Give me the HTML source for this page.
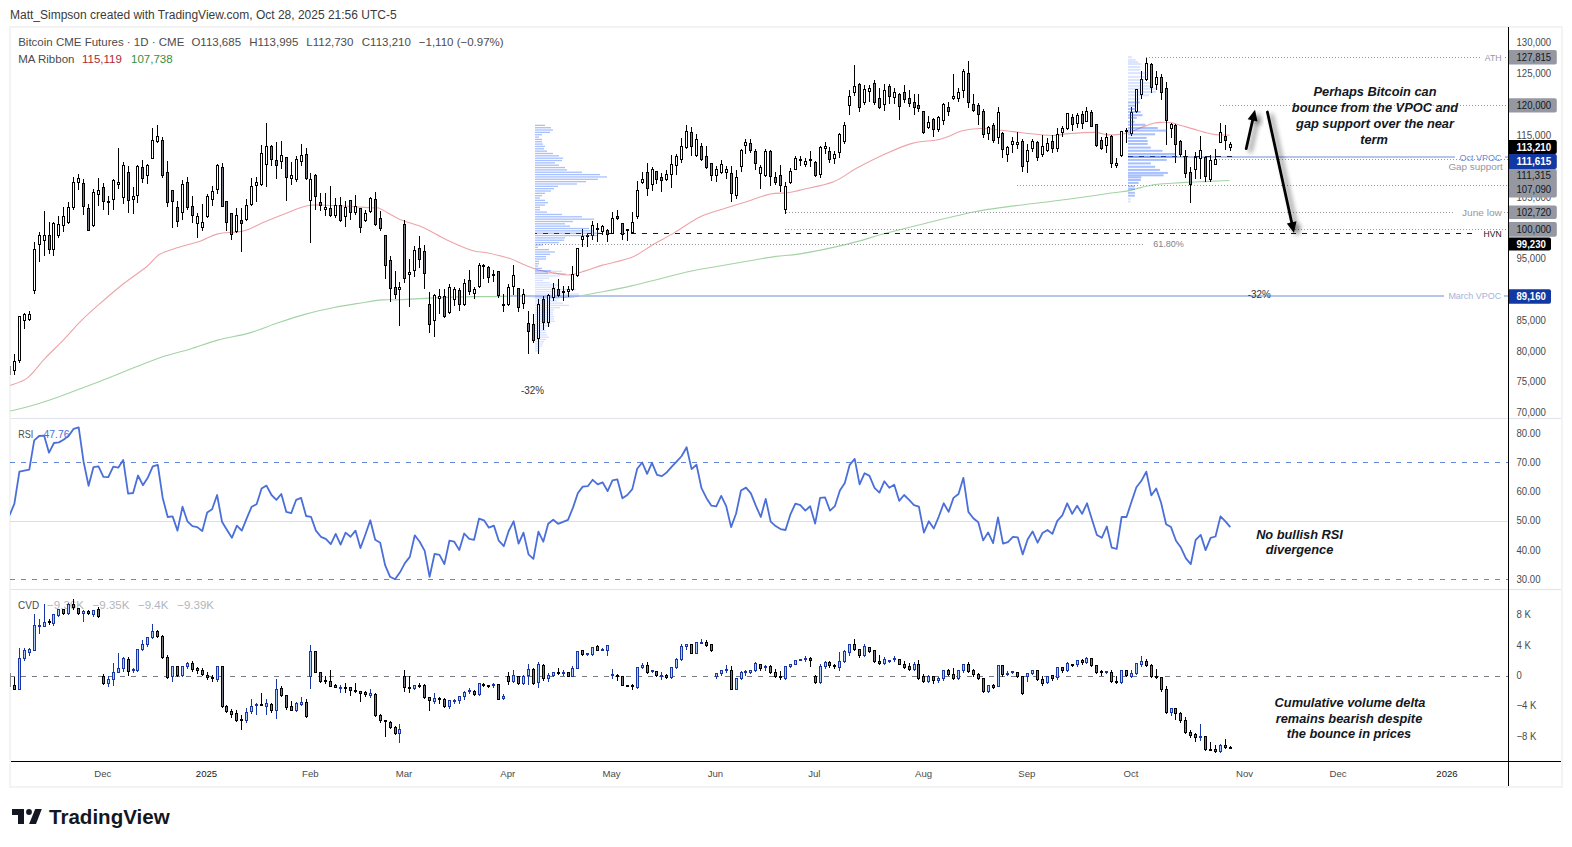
<!DOCTYPE html>
<html><head><meta charset="utf-8">
<style>
html,body{margin:0;padding:0;background:#fff;width:1572px;height:847px;overflow:hidden}
svg{position:absolute;left:0;top:0}
text{font-family:"Liberation Sans", sans-serif}
</style></head><body>
<svg width="1572" height="847" viewBox="0 0 1572 847">
<defs>
<clipPath id="cmain"><rect x="10" y="27" width="1498" height="391"/></clipPath>
<clipPath id="crsi"><rect x="10" y="419" width="1498" height="170"/></clipPath>
<clipPath id="ccvd"><rect x="10" y="590" width="1498" height="171"/></clipPath>
<filter id="shadow" x="-50%" y="-50%" width="200%" height="200%"><feGaussianBlur in="SourceAlpha" stdDeviation="2.5"/><feOffset dx="3.5" dy="3"/><feComponentTransfer><feFuncA type="linear" slope="0.55"/></feComponentTransfer><feMerge><feMergeNode/><feMergeNode in="SourceGraphic"/></feMerge></filter>
</defs>
<text x="10" y="19" font-size="12" fill="#3b3b3b" text-anchor="start" font-weight="normal" font-style="normal" >Matt_Simpson created with TradingView.com, Oct 28, 2025 21:56 UTC-5</text>
<rect x="10" y="27" width="1552" height="760" fill="none" stroke="#f3f3f3" stroke-width="2"/>
<line x1="11" y1="418.5" x2="1561" y2="418.5" stroke="#e0e3eb"/>
<line x1="11" y1="589.5" x2="1561" y2="589.5" stroke="#e0e3eb"/>
<g clip-path="url(#cmain)">
<path d="M10.3 385.5 C13.2 384.2 22.1 382.1 27.8 377.6 C33.5 373.1 38.6 365.1 44.8 358.6 C50.9 352.1 58.8 344.9 64.7 338.7 C70.6 332.5 74.6 327.4 80.3 321.7 C86.0 316.0 91.6 310.9 98.7 304.7 C105.8 298.5 114.8 290.7 122.8 284.3 C130.8 277.9 140.8 271.5 146.9 266.5 C153.0 261.5 154.4 257.5 159.6 254.3 C164.8 251.1 171.2 249.7 178.1 247.5 C184.9 245.3 194.1 243.2 200.7 240.9 C207.3 238.6 210.6 235.6 217.7 233.9 C224.8 232.2 235.7 232.9 243.3 231.0 C250.9 229.1 256.0 225.4 263.1 222.5 C270.2 219.6 278.2 216.2 285.8 213.4 C293.4 210.6 300.5 206.8 308.5 205.5 C316.5 204.2 323.6 205.1 334.0 205.5 C344.4 205.9 363.2 207.3 370.8 207.8 C378.4 208.3 374.4 206.4 379.3 208.3 C384.2 210.2 392.7 216.2 400.0 219.4 C407.3 222.6 415.4 224.1 423.1 227.5 C430.8 230.9 438.1 235.8 446.3 239.7 C454.5 243.5 465.6 248.4 472.3 250.6 C479.1 252.8 480.5 251.4 486.8 252.7 C493.1 254.0 504.1 256.7 509.9 258.5 C515.7 260.3 517.2 261.6 521.5 263.4 C525.8 265.2 530.6 267.6 535.9 269.2 C541.2 270.8 547.8 271.9 553.3 272.9 C558.8 273.8 563.9 275.2 569.2 274.9 C574.5 274.6 579.6 272.5 585.1 270.9 C590.6 269.3 594.8 267.3 602.5 265.1 C610.2 262.9 623.2 260.9 631.4 257.6 C639.6 254.3 644.4 249.6 651.6 245.4 C658.8 241.2 666.6 237.2 674.8 232.4 C683.0 227.6 692.1 220.6 700.8 216.5 C709.5 212.4 719.1 210.3 726.8 207.8 C734.5 205.3 739.9 203.8 747.1 201.5 C754.3 199.2 763.5 195.4 770.2 194.0 C777.0 192.6 782.6 193.5 787.6 192.8 C792.6 192.2 792.3 191.9 800.0 190.1 C807.7 188.2 824.3 185.3 833.6 181.7 C842.9 178.1 847.6 173.1 856.0 168.6 C864.4 164.1 874.7 158.8 884.0 154.6 C893.3 150.4 902.7 146.0 912.0 143.4 C921.3 140.8 931.6 141.3 940.0 139.2 C948.4 137.1 955.8 132.6 962.3 130.8 C968.8 129.0 972.6 128.6 979.1 128.5 C985.6 128.4 994.0 129.4 1001.5 130.2 C1009.0 130.9 1015.5 132.1 1023.9 133.0 C1032.3 133.9 1044.4 135.4 1051.9 135.5 C1059.4 135.6 1061.5 134.1 1068.7 133.6 C1075.9 133.1 1088.8 132.2 1095.0 132.4 C1101.2 132.6 1102.3 134.2 1106.0 134.6 C1109.7 135.0 1113.3 134.9 1117.0 134.6 C1120.7 134.3 1124.0 133.8 1128.0 132.7 C1132.0 131.6 1136.5 129.4 1140.8 127.8 C1145.1 126.2 1149.9 124.1 1153.6 123.2 C1157.2 122.3 1159.7 122.4 1162.7 122.3 C1165.8 122.2 1168.6 122.2 1171.9 122.8 C1175.2 123.4 1179.2 125.0 1182.8 126.0 C1186.4 127.0 1190.1 128.0 1193.8 129.1 C1197.5 130.2 1201.1 131.5 1204.8 132.4 C1208.5 133.3 1211.7 134.2 1215.8 134.6 C1219.9 135.0 1227.2 135.0 1229.5 135.1" fill="none" stroke="#eda4a8" stroke-width="1.1"/>
<path d="M10.3 411.0 C13.2 410.3 21.1 408.7 27.8 406.8 C34.5 404.9 42.0 402.6 50.5 399.7 C59.0 396.8 69.5 392.8 78.9 389.2 C88.4 385.6 97.8 382.1 107.2 378.4 C116.6 374.7 126.5 370.6 135.5 367.1 C144.5 363.6 152.1 360.2 161.1 357.2 C170.1 354.2 180.0 352.0 189.4 349.2 C198.8 346.4 207.8 342.8 217.7 340.1 C227.6 337.4 239.0 335.9 248.9 333.1 C258.8 330.3 267.9 326.3 277.3 323.1 C286.8 319.9 296.2 316.7 305.6 314.1 C315.1 311.5 324.6 309.4 334.0 307.5 C343.4 305.6 354.3 304.0 362.3 302.7 C370.3 301.4 375.9 300.4 382.2 299.9 C388.5 299.4 392.2 300.1 400.0 299.8 C407.8 299.5 419.3 298.6 428.9 298.1 C438.5 297.6 448.1 297.1 457.8 296.9 C467.5 296.6 477.1 296.7 486.8 296.6 C496.5 296.5 507.5 296.1 515.7 296.1 C523.9 296.2 529.1 296.7 535.9 296.9 C542.6 297.1 549.9 297.5 556.2 297.5 C562.5 297.5 565.8 297.9 573.5 296.9 C581.2 295.9 592.9 293.5 602.5 291.7 C612.1 289.9 621.8 288.1 631.4 285.9 C641.0 283.7 650.7 281.1 660.3 278.7 C669.9 276.3 679.6 273.6 689.2 271.5 C698.8 269.4 708.5 268.0 718.1 266.3 C727.8 264.6 737.5 263.0 747.1 261.3 C756.8 259.6 767.2 257.6 776.0 256.4 C784.8 255.2 788.1 255.9 800.0 253.9 C811.9 251.9 833.6 247.4 847.6 244.1 C861.6 240.8 870.9 237.3 884.0 233.8 C897.1 230.3 911.1 226.8 926.0 223.2 C940.9 219.6 959.5 214.8 973.5 212.0 C987.5 209.2 996.8 208.2 1009.9 206.4 C1023.0 204.6 1037.7 203.1 1051.9 201.3 C1066.1 199.5 1084.8 196.9 1095.0 195.5 C1105.2 194.1 1107.8 193.6 1113.3 192.8 C1118.8 192.0 1123.4 191.8 1128.0 190.9 C1132.6 190.0 1136.2 188.7 1140.8 187.6 C1145.4 186.5 1150.2 185.2 1155.4 184.5 C1160.6 183.8 1166.1 183.6 1171.9 183.2 C1177.7 182.8 1184.1 182.4 1190.2 182.1 C1196.3 181.8 1202.0 181.7 1208.5 181.4 C1215.0 181.1 1226.0 180.7 1229.5 180.5" fill="none" stroke="#a3d3a5" stroke-width="1.1"/>
<line x1="1146" y1="57.5" x2="1480" y2="57.5" stroke="#9598a1" stroke-width="1" stroke-dasharray="1 2"/><line x1="1505" y1="57.5" x2="1508" y2="57.5" stroke="#9598a1" stroke-width="1" stroke-dasharray="1 2"/><line x1="1220" y1="105.5" x2="1508" y2="105.5" stroke="#9598a1" stroke-width="1" stroke-dasharray="1 2"/><line x1="1216" y1="159.5" x2="1508" y2="159.5" stroke="#9598a1" stroke-width="1" stroke-dasharray="1 2"/><line x1="1017" y1="185.5" x2="1508" y2="185.5" stroke="#9598a1" stroke-width="1" stroke-dasharray="1 2"/><line x1="786" y1="212.5" x2="1455" y2="212.5" stroke="#9598a1" stroke-width="1" stroke-dasharray="1 2"/><line x1="1504" y1="212.5" x2="1508" y2="212.5" stroke="#9598a1" stroke-width="1" stroke-dasharray="1 2"/><line x1="785" y1="229.5" x2="1508" y2="229.5" stroke="#9598a1" stroke-width="1" stroke-dasharray="1 2"/><line x1="536" y1="244.5" x2="1145" y2="244.5" stroke="#9598a1" stroke-width="1" stroke-dasharray="1 2"/><line x1="535" y1="233.5" x2="1472" y2="233.5" stroke="#131722" stroke-width="1" stroke-dasharray="5 6" stroke-dashoffset="3"/><line x1="1128" y1="157" x2="1455" y2="157" stroke="#b6c5ea" stroke-width="2"/><line x1="1128" y1="156.5" x2="1233" y2="156.5" stroke="#1c2541" stroke-width="1" stroke-dasharray="5 6"/><line x1="1505" y1="157" x2="1508" y2="157" stroke="#b6c5ea" stroke-width="2"/><line x1="508" y1="296" x2="1444" y2="296" stroke="#b6c5ea" stroke-width="2"/><line x1="1504" y1="296" x2="1508" y2="296" stroke="#b6c5ea" stroke-width="2"/>
</g>
<g clip-path="url(#cmain)" stroke-width="1" fill="none"><path stroke="#8a8a8a" d="M9.5 366V366.5M9.5 374.5V376"/><rect stroke="#8a8a8a" fill="none" x="8.5" y="366.5" width="2" height="8"/><path stroke="#000" d="M14.5 354V361.5M14.5 370.5V375"/><rect stroke="#000" fill="#fff" x="13.5" y="361.5" width="2" height="9"/><path stroke="#000" d="M19.5 316V316.5M19.5 360.5V363"/><rect stroke="#000" fill="#fff" x="18.5" y="316.5" width="2" height="44"/><path stroke="#000" d="M24.5 313V314.5M24.5 320.5V329"/><rect stroke="#000" fill="#fff" x="23.5" y="314.5" width="2" height="6"/><path stroke="#000" d="M29.5 311V314.5M29.5 319.5V321"/><rect stroke="#000" fill="#fff" x="28.5" y="314.5" width="2" height="5"/><path stroke="#000" d="M34.5 242V249.5M34.5 290.5V294"/><rect stroke="#000" fill="#fff" x="33.5" y="249.5" width="2" height="41"/><path stroke="#000" d="M39.5 232V235.5M39.5 244.5V262"/><rect stroke="#000" fill="#fff" x="38.5" y="235.5" width="2" height="9"/><path stroke="#000" d="M44.5 211V235.5M44.5 240.5V256"/><rect stroke="#000" fill="#fff" x="43.5" y="235.5" width="2" height="5"/><path stroke="#000" d="M49.5 222V235.5M49.5 249.5V254"/><rect stroke="#000" fill="#787b86" x="48.5" y="235.5" width="2" height="14"/><path stroke="#000" d="M53.5 222V223.5M53.5 249.5V256"/><rect stroke="#000" fill="#fff" x="52.5" y="223.5" width="2" height="26"/><path stroke="#000" d="M58.5 216V224.5M58.5 235.5V238"/><rect stroke="#000" fill="#fff" x="57.5" y="224.5" width="2" height="11"/><path stroke="#000" d="M63.5 207V216.5M63.5 225.5V232"/><rect stroke="#000" fill="#fff" x="62.5" y="216.5" width="2" height="9"/><path stroke="#000" d="M68.5 202V207.5M68.5 222.5V224"/><rect stroke="#000" fill="#fff" x="67.5" y="207.5" width="2" height="15"/><path stroke="#000" d="M73.5 177V182.5M73.5 207.5V210"/><rect stroke="#000" fill="#fff" x="72.5" y="182.5" width="2" height="25"/><path stroke="#000" d="M78.5 174V178.5M78.5 182.5V190"/><rect stroke="#000" fill="#fff" x="77.5" y="178.5" width="2" height="4"/><path stroke="#000" d="M83.5 179V183.5M83.5 206.5V215"/><rect stroke="#000" fill="#787b86" x="82.5" y="183.5" width="2" height="23"/><path stroke="#000" d="M88.5 204V208.5M88.5 230.5V231"/><rect stroke="#000" fill="#787b86" x="87.5" y="208.5" width="2" height="22"/><path stroke="#000" d="M93.5 189V192.5M93.5 225.5V227"/><rect stroke="#000" fill="#fff" x="92.5" y="192.5" width="2" height="33"/><path stroke="#000" d="M98.5 178V190.5M98.5 194.5V206"/><rect stroke="#000" fill="#fff" x="97.5" y="190.5" width="2" height="4"/><path stroke="#000" d="M103.5 183V187.5M103.5 201.5V210"/><rect stroke="#000" fill="#787b86" x="102.5" y="187.5" width="2" height="14"/><path stroke="#000" d="M108.5 196V201.5M108.5 202.5V215"/><rect stroke="#000" fill="#fff" x="107.5" y="201.5" width="2" height="1"/><path stroke="#000" d="M113.5 179V180.5M113.5 199.5V210"/><rect stroke="#000" fill="#fff" x="112.5" y="180.5" width="2" height="19"/><path stroke="#000" d="M118.5 148V182.5M118.5 184.5V189"/><rect stroke="#000" fill="#fff" x="117.5" y="182.5" width="2" height="2"/><path stroke="#000" d="M123.5 162V165.5M123.5 197.5V204"/><rect stroke="#000" fill="#fff" x="122.5" y="165.5" width="2" height="32"/><path stroke="#000" d="M128.5 166V172.5M128.5 200.5V213"/><rect stroke="#000" fill="#787b86" x="127.5" y="172.5" width="2" height="28"/><path stroke="#000" d="M133.5 187V196.5M133.5 199.5V214"/><rect stroke="#000" fill="#fff" x="132.5" y="196.5" width="2" height="3"/><path stroke="#000" d="M137.5 165V166.5M137.5 195.5V203"/><rect stroke="#000" fill="#fff" x="136.5" y="166.5" width="2" height="29"/><path stroke="#000" d="M142.5 160V167.5M142.5 178.5V183"/><rect stroke="#000" fill="#787b86" x="141.5" y="167.5" width="2" height="11"/><path stroke="#000" d="M147.5 164V165.5M147.5 175.5V184"/><rect stroke="#000" fill="#fff" x="146.5" y="165.5" width="2" height="10"/><path stroke="#000" d="M152.5 128V140.5M152.5 158.5V159"/><rect stroke="#000" fill="#fff" x="151.5" y="140.5" width="2" height="18"/><path stroke="#000" d="M157.5 125V136.5M157.5 141.5V143"/><rect stroke="#000" fill="#fff" x="156.5" y="136.5" width="2" height="5"/><path stroke="#000" d="M162.5 137V140.5M162.5 175.5V178"/><rect stroke="#000" fill="#787b86" x="161.5" y="140.5" width="2" height="35"/><path stroke="#000" d="M167.5 161V172.5M167.5 202.5V207"/><rect stroke="#000" fill="#787b86" x="166.5" y="172.5" width="2" height="30"/><path stroke="#000" d="M172.5 190V190.5M172.5 201.5V228"/><rect stroke="#000" fill="#787b86" x="171.5" y="190.5" width="2" height="11"/><path stroke="#000" d="M177.5 201V207.5M177.5 221.5V227"/><rect stroke="#000" fill="#787b86" x="176.5" y="207.5" width="2" height="14"/><path stroke="#000" d="M182.5 180V184.5M182.5 212.5V220"/><rect stroke="#000" fill="#fff" x="181.5" y="184.5" width="2" height="28"/><path stroke="#000" d="M187.5 177V182.5M187.5 207.5V210"/><rect stroke="#000" fill="#787b86" x="186.5" y="182.5" width="2" height="25"/><path stroke="#000" d="M192.5 196V206.5M192.5 215.5V223"/><rect stroke="#000" fill="#787b86" x="191.5" y="206.5" width="2" height="9"/><path stroke="#000" d="M197.5 213V216.5M197.5 223.5V238"/><rect stroke="#000" fill="#fff" x="196.5" y="216.5" width="2" height="7"/><path stroke="#000" d="M202.5 204V222.5M202.5 227.5V231"/><rect stroke="#000" fill="#fff" x="201.5" y="222.5" width="2" height="5"/><path stroke="#000" d="M207.5 194V196.5M207.5 216.5V218"/><rect stroke="#000" fill="#fff" x="206.5" y="196.5" width="2" height="20"/><path stroke="#000" d="M212.5 186V191.5M212.5 199.5V206"/><rect stroke="#000" fill="#fff" x="211.5" y="191.5" width="2" height="8"/><path stroke="#000" d="M217.5 164V165.5M217.5 189.5V194"/><rect stroke="#000" fill="#fff" x="216.5" y="165.5" width="2" height="24"/><path stroke="#000" d="M222.5 163V167.5M222.5 206.5V207"/><rect stroke="#000" fill="#787b86" x="221.5" y="167.5" width="2" height="39"/><path stroke="#000" d="M226.5 201V201.5M226.5 222.5V231"/><rect stroke="#000" fill="#787b86" x="225.5" y="201.5" width="2" height="21"/><path stroke="#000" d="M231.5 213V213.5M231.5 234.5V240"/><rect stroke="#000" fill="#787b86" x="230.5" y="213.5" width="2" height="21"/><path stroke="#000" d="M236.5 208V215.5M236.5 231.5V233"/><rect stroke="#000" fill="#fff" x="235.5" y="215.5" width="2" height="16"/><path stroke="#000" d="M241.5 208V220.5M241.5 223.5V252"/><rect stroke="#000" fill="#787b86" x="240.5" y="220.5" width="2" height="3"/><path stroke="#000" d="M246.5 199V205.5M246.5 219.5V221"/><rect stroke="#000" fill="#fff" x="245.5" y="205.5" width="2" height="14"/><path stroke="#000" d="M251.5 178V186.5M251.5 204.5V206"/><rect stroke="#000" fill="#fff" x="250.5" y="186.5" width="2" height="18"/><path stroke="#000" d="M256.5 177V182.5M256.5 185.5V202"/><rect stroke="#000" fill="#fff" x="255.5" y="182.5" width="2" height="3"/><path stroke="#000" d="M261.5 145V153.5M261.5 184.5V186"/><rect stroke="#000" fill="#fff" x="260.5" y="153.5" width="2" height="31"/><path stroke="#000" d="M266.5 123V146.5M266.5 164.5V187"/><rect stroke="#000" fill="#fff" x="265.5" y="146.5" width="2" height="18"/><path stroke="#000" d="M271.5 145V146.5M271.5 159.5V166"/><rect stroke="#000" fill="#787b86" x="270.5" y="146.5" width="2" height="13"/><path stroke="#000" d="M276.5 142V160.5M276.5 165.5V179"/><rect stroke="#000" fill="#787b86" x="275.5" y="160.5" width="2" height="5"/><path stroke="#000" d="M281.5 141V155.5M281.5 161.5V169"/><rect stroke="#000" fill="#fff" x="280.5" y="155.5" width="2" height="6"/><path stroke="#000" d="M286.5 157V157.5M286.5 177.5V201"/><rect stroke="#000" fill="#787b86" x="285.5" y="157.5" width="2" height="20"/><path stroke="#000" d="M291.5 162V175.5M291.5 178.5V185"/><rect stroke="#000" fill="#fff" x="290.5" y="175.5" width="2" height="3"/><path stroke="#000" d="M296.5 156V159.5M296.5 179.5V182"/><rect stroke="#000" fill="#fff" x="295.5" y="159.5" width="2" height="20"/><path stroke="#000" d="M301.5 144V155.5M301.5 161.5V166"/><rect stroke="#000" fill="#fff" x="300.5" y="155.5" width="2" height="6"/><path stroke="#000" d="M306.5 148V154.5M306.5 178.5V180"/><rect stroke="#000" fill="#787b86" x="305.5" y="154.5" width="2" height="24"/><path stroke="#000" d="M310.5 173V179.5M310.5 200.5V243"/><rect stroke="#000" fill="#fff" x="309.5" y="179.5" width="2" height="21"/><path stroke="#000" d="M315.5 174V175.5M315.5 196.5V210"/><rect stroke="#000" fill="#787b86" x="314.5" y="175.5" width="2" height="21"/><path stroke="#000" d="M320.5 193V202.5M320.5 205.5V211"/><rect stroke="#000" fill="#787b86" x="319.5" y="202.5" width="2" height="3"/><path stroke="#000" d="M325.5 193V207.5M325.5 209.5V216"/><rect stroke="#000" fill="#fff" x="324.5" y="207.5" width="2" height="2"/><path stroke="#000" d="M330.5 186V208.5M330.5 215.5V217"/><rect stroke="#000" fill="#787b86" x="329.5" y="208.5" width="2" height="7"/><path stroke="#000" d="M335.5 198V205.5M335.5 215.5V218"/><rect stroke="#000" fill="#fff" x="334.5" y="205.5" width="2" height="10"/><path stroke="#000" d="M340.5 197V205.5M340.5 220.5V222"/><rect stroke="#000" fill="#787b86" x="339.5" y="205.5" width="2" height="15"/><path stroke="#000" d="M345.5 201V207.5M345.5 216.5V227"/><rect stroke="#000" fill="#fff" x="344.5" y="207.5" width="2" height="9"/><path stroke="#000" d="M350.5 200V200.5M350.5 212.5V220"/><rect stroke="#000" fill="#787b86" x="349.5" y="200.5" width="2" height="12"/><path stroke="#000" d="M355.5 195V206.5M355.5 212.5V215"/><rect stroke="#000" fill="#fff" x="354.5" y="206.5" width="2" height="6"/><path stroke="#000" d="M360.5 208V208.5M360.5 227.5V233"/><rect stroke="#000" fill="#787b86" x="359.5" y="208.5" width="2" height="19"/><path stroke="#000" d="M365.5 210V213.5M365.5 220.5V222"/><rect stroke="#000" fill="#fff" x="364.5" y="213.5" width="2" height="7"/><path stroke="#000" d="M370.5 197V198.5M370.5 211.5V213"/><rect stroke="#000" fill="#fff" x="369.5" y="198.5" width="2" height="13"/><path stroke="#000" d="M375.5 192V199.5M375.5 224.5V226"/><rect stroke="#000" fill="#787b86" x="374.5" y="199.5" width="2" height="25"/><path stroke="#000" d="M380.5 211V218.5M380.5 228.5V231"/><rect stroke="#000" fill="#787b86" x="379.5" y="218.5" width="2" height="10"/><path stroke="#000" d="M385.5 235V235.5M385.5 265.5V279"/><rect stroke="#000" fill="#787b86" x="384.5" y="235.5" width="2" height="30"/><path stroke="#000" d="M390.5 256V260.5M390.5 288.5V302"/><rect stroke="#000" fill="#787b86" x="389.5" y="260.5" width="2" height="28"/><path stroke="#000" d="M395.5 271V287.5M395.5 294.5V299"/><rect stroke="#000" fill="#787b86" x="394.5" y="287.5" width="2" height="7"/><path stroke="#000" d="M399.5 282V287.5M399.5 289.5V326"/><rect stroke="#000" fill="#fff" x="398.5" y="287.5" width="2" height="2"/><path stroke="#000" d="M404.5 220V224.5M404.5 278.5V283"/><rect stroke="#000" fill="#787b86" x="403.5" y="224.5" width="2" height="54"/><path stroke="#000" d="M409.5 259V272.5M409.5 274.5V307"/><rect stroke="#000" fill="#fff" x="408.5" y="272.5" width="2" height="2"/><path stroke="#000" d="M414.5 246V250.5M414.5 270.5V277"/><rect stroke="#000" fill="#fff" x="413.5" y="250.5" width="2" height="20"/><path stroke="#000" d="M419.5 236V248.5M419.5 259.5V268"/><rect stroke="#000" fill="#787b86" x="418.5" y="248.5" width="2" height="11"/><path stroke="#000" d="M424.5 245V251.5M424.5 273.5V289"/><rect stroke="#000" fill="#787b86" x="423.5" y="251.5" width="2" height="22"/><path stroke="#000" d="M429.5 292V304.5M429.5 324.5V333"/><rect stroke="#000" fill="#787b86" x="428.5" y="304.5" width="2" height="20"/><path stroke="#000" d="M434.5 294V295.5M434.5 320.5V337"/><rect stroke="#000" fill="#fff" x="433.5" y="295.5" width="2" height="25"/><path stroke="#000" d="M439.5 289V296.5M439.5 298.5V314"/><rect stroke="#000" fill="#fff" x="438.5" y="296.5" width="2" height="2"/><path stroke="#000" d="M444.5 289V296.5M444.5 316.5V318"/><rect stroke="#000" fill="#787b86" x="443.5" y="296.5" width="2" height="20"/><path stroke="#000" d="M449.5 284V287.5M449.5 312.5V314"/><rect stroke="#000" fill="#fff" x="448.5" y="287.5" width="2" height="25"/><path stroke="#000" d="M454.5 287V289.5M454.5 299.5V306"/><rect stroke="#000" fill="#fff" x="453.5" y="289.5" width="2" height="10"/><path stroke="#000" d="M459.5 288V290.5M459.5 304.5V311"/><rect stroke="#000" fill="#787b86" x="458.5" y="290.5" width="2" height="14"/><path stroke="#000" d="M464.5 279V283.5M464.5 304.5V306"/><rect stroke="#000" fill="#fff" x="463.5" y="283.5" width="2" height="21"/><path stroke="#000" d="M469.5 270V280.5M469.5 291.5V295"/><rect stroke="#000" fill="#787b86" x="468.5" y="280.5" width="2" height="11"/><path stroke="#000" d="M474.5 287V289.5M474.5 293.5V299"/><rect stroke="#000" fill="#fff" x="473.5" y="289.5" width="2" height="4"/><path stroke="#000" d="M479.5 263V265.5M479.5 286.5V288"/><rect stroke="#000" fill="#fff" x="478.5" y="265.5" width="2" height="21"/><path stroke="#000" d="M483.5 264V265.5M483.5 266.5V279"/><rect stroke="#000" fill="#fff" x="482.5" y="265.5" width="2" height="1"/><path stroke="#000" d="M488.5 266V267.5M488.5 277.5V283"/><rect stroke="#000" fill="#787b86" x="487.5" y="267.5" width="2" height="10"/><path stroke="#000" d="M493.5 270V274.5M493.5 275.5V282"/><rect stroke="#000" fill="#fff" x="492.5" y="274.5" width="2" height="1"/><path stroke="#000" d="M498.5 271V271.5M498.5 295.5V298"/><rect stroke="#000" fill="#787b86" x="497.5" y="271.5" width="2" height="24"/><path stroke="#000" d="M503.5 294V304.5M503.5 305.5V312"/><rect stroke="#000" fill="#787b86" x="502.5" y="304.5" width="2" height="1"/><path stroke="#000" d="M508.5 284V287.5M508.5 304.5V306"/><rect stroke="#000" fill="#fff" x="507.5" y="287.5" width="2" height="17"/><path stroke="#000" d="M513.5 265V275.5M513.5 286.5V295"/><rect stroke="#000" fill="#fff" x="512.5" y="275.5" width="2" height="11"/><path stroke="#000" d="M518.5 288V288.5M518.5 307.5V312"/><rect stroke="#000" fill="#787b86" x="517.5" y="288.5" width="2" height="19"/><path stroke="#000" d="M523.5 289V294.5M523.5 303.5V309"/><rect stroke="#000" fill="#fff" x="522.5" y="294.5" width="2" height="9"/><path stroke="#000" d="M528.5 311V323.5M528.5 331.5V354"/><rect stroke="#000" fill="#787b86" x="527.5" y="323.5" width="2" height="8"/><path stroke="#000" d="M533.5 314V324.5M533.5 340.5V343"/><rect stroke="#000" fill="#787b86" x="532.5" y="324.5" width="2" height="16"/><path stroke="#000" d="M538.5 299V304.5M538.5 338.5V354"/><rect stroke="#000" fill="#fff" x="537.5" y="304.5" width="2" height="34"/><path stroke="#000" d="M543.5 296V299.5M543.5 322.5V330"/><rect stroke="#000" fill="#787b86" x="542.5" y="299.5" width="2" height="23"/><path stroke="#000" d="M548.5 294V295.5M548.5 322.5V327"/><rect stroke="#000" fill="#fff" x="547.5" y="295.5" width="2" height="27"/><path stroke="#000" d="M553.5 283V288.5M553.5 297.5V301"/><rect stroke="#000" fill="#fff" x="552.5" y="288.5" width="2" height="9"/><path stroke="#000" d="M558.5 279V289.5M558.5 295.5V297"/><rect stroke="#000" fill="#787b86" x="557.5" y="289.5" width="2" height="6"/><path stroke="#000" d="M563.5 286V291.5M563.5 292.5V301"/><rect stroke="#000" fill="#fff" x="562.5" y="291.5" width="2" height="1"/><path stroke="#000" d="M568.5 286V289.5M568.5 291.5V297"/><rect stroke="#000" fill="#fff" x="567.5" y="289.5" width="2" height="2"/><path stroke="#000" d="M572.5 266V274.5M572.5 289.5V291"/><rect stroke="#000" fill="#fff" x="571.5" y="274.5" width="2" height="15"/><path stroke="#000" d="M577.5 248V248.5M577.5 275.5V277"/><rect stroke="#000" fill="#fff" x="576.5" y="248.5" width="2" height="27"/><path stroke="#000" d="M582.5 229V236.5M582.5 239.5V247"/><rect stroke="#000" fill="#fff" x="581.5" y="236.5" width="2" height="3"/><path stroke="#000" d="M587.5 234V235.5M587.5 236.5V247"/><rect stroke="#000" fill="#fff" x="586.5" y="235.5" width="2" height="1"/><path stroke="#000" d="M592.5 221V225.5M592.5 235.5V240"/><rect stroke="#000" fill="#fff" x="591.5" y="225.5" width="2" height="10"/><path stroke="#000" d="M597.5 223V228.5M597.5 229.5V242"/><rect stroke="#000" fill="#fff" x="596.5" y="228.5" width="2" height="1"/><path stroke="#000" d="M602.5 225V226.5M602.5 231.5V235"/><rect stroke="#000" fill="#fff" x="601.5" y="226.5" width="2" height="5"/><path stroke="#000" d="M607.5 229V230.5M607.5 234.5V242"/><rect stroke="#000" fill="#787b86" x="606.5" y="230.5" width="2" height="4"/><path stroke="#000" d="M612.5 212V218.5M612.5 233.5V234"/><rect stroke="#000" fill="#fff" x="611.5" y="218.5" width="2" height="15"/><path stroke="#000" d="M617.5 210V216.5M617.5 218.5V220"/><rect stroke="#000" fill="#787b86" x="616.5" y="216.5" width="2" height="2"/><path stroke="#000" d="M622.5 223V223.5M622.5 234.5V240"/><rect stroke="#000" fill="#787b86" x="621.5" y="223.5" width="2" height="11"/><path stroke="#000" d="M627.5 229V229.5M627.5 230.5V241"/><rect stroke="#000" fill="#fff" x="626.5" y="229.5" width="2" height="1"/><path stroke="#000" d="M632.5 212V222.5M632.5 232.5V234"/><rect stroke="#000" fill="#fff" x="631.5" y="222.5" width="2" height="10"/><path stroke="#000" d="M637.5 181V190.5M637.5 216.5V219"/><rect stroke="#000" fill="#fff" x="636.5" y="190.5" width="2" height="26"/><path stroke="#000" d="M642.5 172V179.5M642.5 182.5V184"/><rect stroke="#000" fill="#fff" x="641.5" y="179.5" width="2" height="3"/><path stroke="#000" d="M647.5 163V172.5M647.5 188.5V196"/><rect stroke="#000" fill="#787b86" x="646.5" y="172.5" width="2" height="16"/><path stroke="#000" d="M652.5 167V169.5M652.5 184.5V191"/><rect stroke="#000" fill="#fff" x="651.5" y="169.5" width="2" height="15"/><path stroke="#000" d="M656.5 171V171.5M656.5 179.5V184"/><rect stroke="#000" fill="#787b86" x="655.5" y="171.5" width="2" height="8"/><path stroke="#000" d="M661.5 173V177.5M661.5 180.5V192"/><rect stroke="#000" fill="#787b86" x="660.5" y="177.5" width="2" height="3"/><path stroke="#000" d="M666.5 170V174.5M666.5 179.5V181"/><rect stroke="#000" fill="#fff" x="665.5" y="174.5" width="2" height="5"/><path stroke="#000" d="M671.5 155V164.5M671.5 174.5V188"/><rect stroke="#000" fill="#fff" x="670.5" y="164.5" width="2" height="10"/><path stroke="#000" d="M676.5 154V156.5M676.5 165.5V175"/><rect stroke="#000" fill="#fff" x="675.5" y="156.5" width="2" height="9"/><path stroke="#000" d="M681.5 138V146.5M681.5 159.5V163"/><rect stroke="#000" fill="#fff" x="680.5" y="146.5" width="2" height="13"/><path stroke="#000" d="M686.5 125V131.5M686.5 147.5V149"/><rect stroke="#000" fill="#fff" x="685.5" y="131.5" width="2" height="16"/><path stroke="#000" d="M691.5 127V132.5M691.5 146.5V156"/><rect stroke="#000" fill="#787b86" x="690.5" y="132.5" width="2" height="14"/><path stroke="#000" d="M696.5 134V139.5M696.5 155.5V157"/><rect stroke="#000" fill="#fff" x="695.5" y="139.5" width="2" height="16"/><path stroke="#000" d="M701.5 143V146.5M701.5 159.5V161"/><rect stroke="#000" fill="#787b86" x="700.5" y="146.5" width="2" height="13"/><path stroke="#000" d="M706.5 146V156.5M706.5 167.5V169"/><rect stroke="#000" fill="#787b86" x="705.5" y="156.5" width="2" height="11"/><path stroke="#000" d="M711.5 163V163.5M711.5 175.5V181"/><rect stroke="#000" fill="#787b86" x="710.5" y="163.5" width="2" height="12"/><path stroke="#000" d="M716.5 166V169.5M716.5 175.5V182"/><rect stroke="#000" fill="#fff" x="715.5" y="169.5" width="2" height="6"/><path stroke="#000" d="M721.5 160V164.5M721.5 172.5V174"/><rect stroke="#000" fill="#fff" x="720.5" y="164.5" width="2" height="8"/><path stroke="#000" d="M726.5 166V169.5M726.5 172.5V179"/><rect stroke="#000" fill="#fff" x="725.5" y="169.5" width="2" height="3"/><path stroke="#000" d="M731.5 166V173.5M731.5 193.5V202"/><rect stroke="#000" fill="#787b86" x="730.5" y="173.5" width="2" height="20"/><path stroke="#000" d="M736.5 170V177.5M736.5 195.5V199"/><rect stroke="#000" fill="#fff" x="735.5" y="177.5" width="2" height="18"/><path stroke="#000" d="M741.5 149V150.5M741.5 166.5V172"/><rect stroke="#000" fill="#fff" x="740.5" y="150.5" width="2" height="16"/><path stroke="#000" d="M745.5 139V142.5M745.5 145.5V154"/><rect stroke="#000" fill="#fff" x="744.5" y="142.5" width="2" height="3"/><path stroke="#000" d="M750.5 139V143.5M750.5 150.5V153"/><rect stroke="#000" fill="#787b86" x="749.5" y="143.5" width="2" height="7"/><path stroke="#000" d="M755.5 149V151.5M755.5 163.5V170"/><rect stroke="#000" fill="#787b86" x="754.5" y="151.5" width="2" height="12"/><path stroke="#000" d="M760.5 165V167.5M760.5 173.5V189"/><rect stroke="#000" fill="#fff" x="759.5" y="167.5" width="2" height="6"/><path stroke="#000" d="M765.5 149V151.5M765.5 175.5V177"/><rect stroke="#000" fill="#fff" x="764.5" y="151.5" width="2" height="24"/><path stroke="#000" d="M770.5 150V151.5M770.5 176.5V186"/><rect stroke="#000" fill="#787b86" x="769.5" y="151.5" width="2" height="25"/><path stroke="#000" d="M775.5 172V177.5M775.5 182.5V185"/><rect stroke="#000" fill="#787b86" x="774.5" y="177.5" width="2" height="5"/><path stroke="#000" d="M780.5 165V175.5M780.5 185.5V192"/><rect stroke="#000" fill="#787b86" x="779.5" y="175.5" width="2" height="10"/><path stroke="#000" d="M785.5 182V186.5M785.5 209.5V214"/><rect stroke="#000" fill="#fff" x="784.5" y="186.5" width="2" height="23"/><path stroke="#000" d="M790.5 168V171.5M790.5 182.5V184"/><rect stroke="#000" fill="#fff" x="789.5" y="171.5" width="2" height="11"/><path stroke="#000" d="M795.5 156V158.5M795.5 169.5V170"/><rect stroke="#000" fill="#fff" x="794.5" y="158.5" width="2" height="11"/><path stroke="#000" d="M800.5 156V159.5M800.5 160.5V166"/><rect stroke="#000" fill="#fff" x="799.5" y="159.5" width="2" height="1"/><path stroke="#000" d="M805.5 158V161.5M805.5 164.5V167"/><rect stroke="#000" fill="#fff" x="804.5" y="161.5" width="2" height="3"/><path stroke="#000" d="M810.5 151V159.5M810.5 160.5V167"/><rect stroke="#000" fill="#fff" x="809.5" y="159.5" width="2" height="1"/><path stroke="#000" d="M815.5 161V162.5M815.5 175.5V177"/><rect stroke="#000" fill="#787b86" x="814.5" y="162.5" width="2" height="13"/><path stroke="#000" d="M820.5 146V147.5M820.5 174.5V178"/><rect stroke="#000" fill="#fff" x="819.5" y="147.5" width="2" height="27"/><path stroke="#000" d="M825.5 142V146.5M825.5 148.5V154"/><rect stroke="#000" fill="#fff" x="824.5" y="146.5" width="2" height="2"/><path stroke="#000" d="M829.5 147V151.5M829.5 159.5V163"/><rect stroke="#000" fill="#787b86" x="828.5" y="151.5" width="2" height="8"/><path stroke="#000" d="M834.5 151V154.5M834.5 158.5V164"/><rect stroke="#000" fill="#fff" x="833.5" y="154.5" width="2" height="4"/><path stroke="#000" d="M839.5 133V134.5M839.5 152.5V158"/><rect stroke="#000" fill="#fff" x="838.5" y="134.5" width="2" height="18"/><path stroke="#000" d="M844.5 122V125.5M844.5 141.5V144"/><rect stroke="#000" fill="#fff" x="843.5" y="125.5" width="2" height="16"/><path stroke="#000" d="M849.5 90V96.5M849.5 105.5V115"/><rect stroke="#000" fill="#fff" x="848.5" y="96.5" width="2" height="9"/><path stroke="#000" d="M854.5 65V86.5M854.5 92.5V96"/><rect stroke="#000" fill="#fff" x="853.5" y="86.5" width="2" height="6"/><path stroke="#000" d="M859.5 83V84.5M859.5 107.5V112"/><rect stroke="#000" fill="#787b86" x="858.5" y="84.5" width="2" height="23"/><path stroke="#000" d="M864.5 85V89.5M864.5 102.5V105"/><rect stroke="#000" fill="#fff" x="863.5" y="89.5" width="2" height="13"/><path stroke="#000" d="M869.5 85V88.5M869.5 91.5V102"/><rect stroke="#000" fill="#fff" x="868.5" y="88.5" width="2" height="3"/><path stroke="#000" d="M874.5 80V83.5M874.5 102.5V105"/><rect stroke="#000" fill="#787b86" x="873.5" y="83.5" width="2" height="19"/><path stroke="#000" d="M879.5 88V98.5M879.5 107.5V109"/><rect stroke="#000" fill="#787b86" x="878.5" y="98.5" width="2" height="9"/><path stroke="#000" d="M884.5 84V90.5M884.5 104.5V111"/><rect stroke="#000" fill="#fff" x="883.5" y="90.5" width="2" height="14"/><path stroke="#000" d="M889.5 84V86.5M889.5 96.5V104"/><rect stroke="#000" fill="#787b86" x="888.5" y="86.5" width="2" height="10"/><path stroke="#000" d="M894.5 88V92.5M894.5 97.5V104"/><rect stroke="#000" fill="#fff" x="893.5" y="92.5" width="2" height="5"/><path stroke="#000" d="M899.5 93V94.5M899.5 106.5V120"/><rect stroke="#000" fill="#787b86" x="898.5" y="94.5" width="2" height="12"/><path stroke="#000" d="M904.5 85V92.5M904.5 99.5V103"/><rect stroke="#000" fill="#787b86" x="903.5" y="92.5" width="2" height="7"/><path stroke="#000" d="M909.5 90V98.5M909.5 103.5V107"/><rect stroke="#000" fill="#787b86" x="908.5" y="98.5" width="2" height="5"/><path stroke="#000" d="M914.5 94V102.5M914.5 107.5V115"/><rect stroke="#000" fill="#787b86" x="913.5" y="102.5" width="2" height="5"/><path stroke="#000" d="M918.5 94V105.5M918.5 108.5V112"/><rect stroke="#000" fill="#787b86" x="917.5" y="105.5" width="2" height="3"/><path stroke="#000" d="M923.5 111V111.5M923.5 132.5V134"/><rect stroke="#000" fill="#787b86" x="922.5" y="111.5" width="2" height="21"/><path stroke="#000" d="M928.5 116V122.5M928.5 127.5V129"/><rect stroke="#000" fill="#fff" x="927.5" y="122.5" width="2" height="5"/><path stroke="#000" d="M933.5 118V119.5M933.5 129.5V137"/><rect stroke="#000" fill="#787b86" x="932.5" y="119.5" width="2" height="10"/><path stroke="#000" d="M938.5 116V117.5M938.5 129.5V132"/><rect stroke="#000" fill="#fff" x="937.5" y="117.5" width="2" height="12"/><path stroke="#000" d="M943.5 103V104.5M943.5 120.5V125"/><rect stroke="#000" fill="#fff" x="942.5" y="104.5" width="2" height="16"/><path stroke="#000" d="M948.5 102V107.5M948.5 111.5V116"/><rect stroke="#000" fill="#787b86" x="947.5" y="107.5" width="2" height="4"/><path stroke="#000" d="M953.5 74V96.5M953.5 98.5V100"/><rect stroke="#000" fill="#fff" x="952.5" y="96.5" width="2" height="2"/><path stroke="#000" d="M958.5 88V92.5M958.5 98.5V102"/><rect stroke="#000" fill="#fff" x="957.5" y="92.5" width="2" height="6"/><path stroke="#000" d="M963.5 69V71.5M963.5 90.5V98"/><rect stroke="#000" fill="#fff" x="962.5" y="71.5" width="2" height="19"/><path stroke="#000" d="M968.5 61V73.5M968.5 102.5V108"/><rect stroke="#000" fill="#787b86" x="967.5" y="73.5" width="2" height="29"/><path stroke="#000" d="M973.5 94V104.5M973.5 110.5V112"/><rect stroke="#000" fill="#787b86" x="972.5" y="104.5" width="2" height="6"/><path stroke="#000" d="M978.5 103V105.5M978.5 114.5V125"/><rect stroke="#000" fill="#787b86" x="977.5" y="105.5" width="2" height="9"/><path stroke="#000" d="M983.5 109V111.5M983.5 134.5V138"/><rect stroke="#000" fill="#787b86" x="982.5" y="111.5" width="2" height="23"/><path stroke="#000" d="M988.5 126V127.5M988.5 133.5V140"/><rect stroke="#000" fill="#fff" x="987.5" y="127.5" width="2" height="6"/><path stroke="#000" d="M993.5 123V125.5M993.5 140.5V143"/><rect stroke="#000" fill="#787b86" x="992.5" y="125.5" width="2" height="15"/><path stroke="#000" d="M998.5 107V112.5M998.5 137.5V144"/><rect stroke="#000" fill="#fff" x="997.5" y="112.5" width="2" height="25"/><path stroke="#000" d="M1002.5 132V133.5M1002.5 149.5V158"/><rect stroke="#000" fill="#787b86" x="1001.5" y="133.5" width="2" height="16"/><path stroke="#000" d="M1007.5 146V147.5M1007.5 154.5V162"/><rect stroke="#000" fill="#fff" x="1006.5" y="147.5" width="2" height="7"/><path stroke="#000" d="M1012.5 137V141.5M1012.5 144.5V153"/><rect stroke="#000" fill="#fff" x="1011.5" y="141.5" width="2" height="3"/><path stroke="#000" d="M1017.5 132V142.5M1017.5 144.5V149"/><rect stroke="#000" fill="#fff" x="1016.5" y="142.5" width="2" height="2"/><path stroke="#000" d="M1022.5 139V141.5M1022.5 166.5V172"/><rect stroke="#000" fill="#787b86" x="1021.5" y="141.5" width="2" height="25"/><path stroke="#000" d="M1027.5 144V150.5M1027.5 161.5V173"/><rect stroke="#000" fill="#fff" x="1026.5" y="150.5" width="2" height="11"/><path stroke="#000" d="M1032.5 139V141.5M1032.5 148.5V152"/><rect stroke="#000" fill="#fff" x="1031.5" y="141.5" width="2" height="7"/><path stroke="#000" d="M1037.5 141V142.5M1037.5 157.5V161"/><rect stroke="#000" fill="#787b86" x="1036.5" y="142.5" width="2" height="15"/><path stroke="#000" d="M1042.5 135V146.5M1042.5 154.5V157"/><rect stroke="#000" fill="#fff" x="1041.5" y="146.5" width="2" height="8"/><path stroke="#000" d="M1047.5 138V143.5M1047.5 150.5V152"/><rect stroke="#000" fill="#fff" x="1046.5" y="143.5" width="2" height="7"/><path stroke="#000" d="M1052.5 135V141.5M1052.5 148.5V153"/><rect stroke="#000" fill="#787b86" x="1051.5" y="141.5" width="2" height="7"/><path stroke="#000" d="M1057.5 128V134.5M1057.5 148.5V152"/><rect stroke="#000" fill="#fff" x="1056.5" y="134.5" width="2" height="14"/><path stroke="#000" d="M1062.5 126V128.5M1062.5 132.5V137"/><rect stroke="#000" fill="#fff" x="1061.5" y="128.5" width="2" height="4"/><path stroke="#000" d="M1067.5 113V113.5M1067.5 128.5V130"/><rect stroke="#000" fill="#fff" x="1066.5" y="113.5" width="2" height="15"/><path stroke="#000" d="M1072.5 114V117.5M1072.5 124.5V131"/><rect stroke="#000" fill="#787b86" x="1071.5" y="117.5" width="2" height="7"/><path stroke="#000" d="M1077.5 113V115.5M1077.5 123.5V128"/><rect stroke="#000" fill="#fff" x="1076.5" y="115.5" width="2" height="8"/><path stroke="#000" d="M1082.5 111V114.5M1082.5 123.5V129"/><rect stroke="#000" fill="#787b86" x="1081.5" y="114.5" width="2" height="9"/><path stroke="#000" d="M1086.5 107V111.5M1086.5 121.5V122"/><rect stroke="#000" fill="#fff" x="1085.5" y="111.5" width="2" height="10"/><path stroke="#000" d="M1091.5 110V112.5M1091.5 126.5V127"/><rect stroke="#000" fill="#787b86" x="1090.5" y="112.5" width="2" height="14"/><path stroke="#000" d="M1096.5 124V124.5M1096.5 145.5V147"/><rect stroke="#000" fill="#787b86" x="1095.5" y="124.5" width="2" height="21"/><path stroke="#000" d="M1101.5 137V140.5M1101.5 148.5V150"/><rect stroke="#000" fill="#787b86" x="1100.5" y="140.5" width="2" height="8"/><path stroke="#000" d="M1106.5 133V137.5M1106.5 145.5V153"/><rect stroke="#000" fill="#fff" x="1105.5" y="137.5" width="2" height="8"/><path stroke="#000" d="M1111.5 135V136.5M1111.5 163.5V168"/><rect stroke="#000" fill="#787b86" x="1110.5" y="136.5" width="2" height="27"/><path stroke="#000" d="M1116.5 158V163.5M1116.5 165.5V168"/><rect stroke="#000" fill="#fff" x="1115.5" y="163.5" width="2" height="2"/><path stroke="#000" d="M1121.5 131V131.5M1121.5 155.5V157"/><rect stroke="#000" fill="#fff" x="1120.5" y="131.5" width="2" height="24"/><path stroke="#000" d="M1126.5 128V130.5M1126.5 131.5V143"/><rect stroke="#000" fill="#fff" x="1125.5" y="130.5" width="2" height="1"/><path stroke="#000" d="M1131.5 107V112.5M1131.5 133.5V136"/><rect stroke="#000" fill="#fff" x="1130.5" y="112.5" width="2" height="21"/><path stroke="#000" d="M1136.5 89V89.5M1136.5 111.5V113"/><rect stroke="#000" fill="#fff" x="1135.5" y="89.5" width="2" height="22"/><path stroke="#000" d="M1141.5 71V79.5M1141.5 94.5V99"/><rect stroke="#000" fill="#fff" x="1140.5" y="79.5" width="2" height="15"/><path stroke="#000" d="M1146.5 58V63.5M1146.5 79.5V81"/><rect stroke="#000" fill="#fff" x="1145.5" y="63.5" width="2" height="16"/><path stroke="#000" d="M1151.5 63V64.5M1151.5 87.5V93"/><rect stroke="#000" fill="#787b86" x="1150.5" y="64.5" width="2" height="23"/><path stroke="#000" d="M1156.5 71V77.5M1156.5 84.5V90"/><rect stroke="#000" fill="#fff" x="1155.5" y="77.5" width="2" height="7"/><path stroke="#000" d="M1161.5 74V77.5M1161.5 92.5V100"/><rect stroke="#000" fill="#787b86" x="1160.5" y="77.5" width="2" height="15"/><path stroke="#000" d="M1166.5 82V88.5M1166.5 120.5V145"/><rect stroke="#000" fill="#787b86" x="1165.5" y="88.5" width="2" height="32"/><path stroke="#000" d="M1171.5 123V124.5M1171.5 128.5V138"/><rect stroke="#000" fill="#fff" x="1170.5" y="124.5" width="2" height="4"/><path stroke="#000" d="M1175.5 124V125.5M1175.5 144.5V163"/><rect stroke="#000" fill="#787b86" x="1174.5" y="125.5" width="2" height="19"/><path stroke="#000" d="M1180.5 140V141.5M1180.5 154.5V157"/><rect stroke="#000" fill="#787b86" x="1179.5" y="141.5" width="2" height="13"/><path stroke="#000" d="M1185.5 150V156.5M1185.5 173.5V178"/><rect stroke="#000" fill="#787b86" x="1184.5" y="156.5" width="2" height="17"/><path stroke="#000" d="M1190.5 167V172.5M1190.5 184.5V203"/><rect stroke="#000" fill="#787b86" x="1189.5" y="172.5" width="2" height="12"/><path stroke="#000" d="M1195.5 152V157.5M1195.5 169.5V179"/><rect stroke="#000" fill="#fff" x="1194.5" y="157.5" width="2" height="12"/><path stroke="#000" d="M1200.5 136V150.5M1200.5 158.5V179"/><rect stroke="#000" fill="#fff" x="1199.5" y="150.5" width="2" height="8"/><path stroke="#000" d="M1205.5 157V157.5M1205.5 176.5V182"/><rect stroke="#000" fill="#787b86" x="1204.5" y="157.5" width="2" height="19"/><path stroke="#000" d="M1210.5 155V160.5M1210.5 179.5V182"/><rect stroke="#000" fill="#fff" x="1209.5" y="160.5" width="2" height="19"/><path stroke="#000" d="M1215.5 149V159.5M1215.5 164.5V164"/><rect stroke="#000" fill="#fff" x="1214.5" y="159.5" width="2" height="5"/><path stroke="#000" d="M1220.5 123V132.5M1220.5 142.5V143"/><rect stroke="#000" fill="#fff" x="1219.5" y="132.5" width="2" height="10"/><path stroke="#000" d="M1225.5 125V136.5M1225.5 140.5V150"/><rect stroke="#000" fill="#787b86" x="1224.5" y="136.5" width="2" height="4"/><path stroke="#000" d="M1230.5 142V144.5M1230.5 147.5V151"/><rect stroke="#000" fill="#fff" x="1229.5" y="144.5" width="2" height="3"/></g>
<g clip-path="url(#cmain)"><g fill="rgba(41,98,255,0.4)"><rect x="535" y="124.70" width="10" height="1.3"/><rect x="535" y="127.05" width="16" height="1.3"/><rect x="535" y="129.39" width="18" height="1.3"/><rect x="535" y="131.74" width="15" height="1.3"/><rect x="535" y="134.08" width="7" height="1.3"/><rect x="535" y="136.43" width="4" height="1.3"/><rect x="535" y="138.77" width="7" height="1.3"/><rect x="535" y="141.12" width="7" height="1.3"/><rect x="535" y="143.46" width="8" height="1.3"/><rect x="535" y="145.81" width="10" height="1.3"/><rect x="535" y="148.15" width="9" height="1.3"/><rect x="535" y="150.50" width="12" height="1.3"/><rect x="535" y="152.84" width="18" height="1.3"/><rect x="535" y="155.19" width="24" height="1.3"/><rect x="535" y="157.53" width="28" height="1.3"/><rect x="535" y="159.88" width="27" height="1.3"/><rect x="535" y="162.22" width="20" height="1.3"/><rect x="535" y="164.56" width="24" height="1.3"/><rect x="535" y="166.91" width="30" height="1.3"/><rect x="535" y="169.25" width="32" height="1.3"/><rect x="535" y="171.60" width="47" height="1.3"/><rect x="535" y="173.94" width="65" height="1.3"/><rect x="535" y="176.29" width="72" height="1.3"/><rect x="535" y="178.63" width="63" height="1.3"/><rect x="535" y="180.98" width="51" height="1.3"/><rect x="535" y="183.32" width="42" height="1.3"/><rect x="535" y="185.67" width="23" height="1.3"/><rect x="535" y="188.01" width="19" height="1.3"/><rect x="535" y="190.36" width="16" height="1.3"/><rect x="535" y="192.70" width="10" height="1.3"/><rect x="535" y="195.05" width="7" height="1.3"/><rect x="535" y="197.39" width="5" height="1.3"/><rect x="535" y="199.74" width="10" height="1.3"/><rect x="535" y="202.08" width="13" height="1.3"/><rect x="535" y="204.43" width="10" height="1.3"/><rect x="535" y="206.77" width="5" height="1.3"/><rect x="535" y="209.12" width="5" height="1.3"/><rect x="535" y="211.46" width="12" height="1.3"/><rect x="535" y="213.81" width="27" height="1.3"/><rect x="535" y="216.15" width="47" height="1.3"/><rect x="535" y="218.50" width="59" height="1.3"/><rect x="535" y="220.84" width="38" height="1.3"/><rect x="535" y="223.19" width="30" height="1.3"/><rect x="535" y="225.53" width="35" height="1.3"/><rect x="535" y="227.88" width="54" height="1.3"/><rect x="535" y="230.22" width="58" height="1.3"/><rect x="535" y="232.57" width="65" height="1.3"/><rect x="535" y="234.91" width="62" height="1.3"/><rect x="535" y="237.26" width="30" height="1.3"/><rect x="535" y="239.60" width="29" height="1.3"/><rect x="535" y="241.95" width="24" height="1.3"/><rect x="535" y="244.29" width="8" height="1.3"/><rect x="535" y="246.64" width="3" height="1.3"/><rect x="535" y="248.98" width="14" height="1.3"/><rect x="535" y="251.33" width="20" height="1.3"/><rect x="535" y="253.67" width="15" height="1.3"/><rect x="535" y="256.02" width="11" height="1.3"/><rect x="535" y="258.36" width="11" height="1.3"/><rect x="535" y="260.71" width="4" height="1.3"/><rect x="535" y="263.06" width="4" height="1.3"/><rect x="535" y="265.40" width="3" height="1.3"/><rect x="535" y="267.75" width="7" height="1.3"/><rect x="535" y="270.09" width="16" height="1.3"/><rect x="535" y="272.44" width="13" height="1.3"/></g><g fill="rgba(41,98,255,0.19)"><rect x="535" y="270.70" width="27" height="1.3"/><rect x="535" y="272.97" width="31" height="1.3"/><rect x="535" y="275.24" width="25" height="1.3"/><rect x="535" y="277.51" width="14" height="1.3"/><rect x="535" y="279.78" width="8" height="1.3"/><rect x="535" y="282.05" width="15" height="1.3"/><rect x="535" y="284.32" width="23" height="1.3"/><rect x="535" y="286.59" width="21" height="1.3"/><rect x="535" y="288.86" width="41" height="1.3"/><rect x="535" y="291.13" width="27" height="1.3"/><rect x="535" y="293.40" width="44" height="1.3"/><rect x="535" y="295.67" width="44" height="1.3"/><rect x="535" y="297.94" width="24" height="1.3"/><rect x="535" y="300.21" width="22" height="1.3"/><rect x="535" y="302.48" width="28" height="1.3"/><rect x="535" y="304.75" width="34" height="1.3"/><rect x="535" y="307.02" width="25" height="1.3"/><rect x="535" y="309.29" width="19" height="1.3"/><rect x="535" y="311.56" width="18" height="1.3"/><rect x="535" y="313.83" width="18" height="1.3"/><rect x="535" y="316.10" width="19" height="1.3"/><rect x="535" y="318.37" width="19" height="1.3"/><rect x="535" y="320.64" width="20" height="1.3"/><rect x="535" y="322.91" width="16" height="1.3"/><rect x="535" y="325.18" width="15" height="1.3"/><rect x="535" y="327.45" width="10" height="1.3"/><rect x="535" y="329.72" width="11" height="1.3"/><rect x="535" y="331.99" width="11" height="1.3"/><rect x="535" y="334.26" width="12" height="1.3"/><rect x="535" y="336.53" width="14" height="1.3"/><rect x="535" y="338.80" width="11" height="1.3"/><rect x="535" y="341.07" width="9" height="1.3"/><rect x="535" y="343.34" width="8" height="1.3"/><rect x="535" y="345.61" width="7" height="1.3"/><rect x="535" y="347.88" width="5" height="1.3"/><rect x="535" y="350.15" width="5" height="1.3"/></g><g fill="rgba(41,98,255,0.17)"><rect x="1128" y="56.1" width="3.8" height="2"/><rect x="1128" y="58.9" width="7.6" height="2"/><rect x="1128" y="61.0" width="10" height="2"/><rect x="1128" y="63.0" width="12.7" height="2"/><rect x="1128" y="66.0" width="12.3" height="2"/><rect x="1128" y="68.8" width="12.3" height="2"/><rect x="1128" y="72.1" width="20.3" height="2"/><rect x="1128" y="75.9" width="19.8" height="2"/><rect x="1128" y="79.0" width="16" height="2"/><rect x="1128" y="82.0" width="22" height="2"/><rect x="1128" y="84.9" width="22" height="2"/><rect x="1128" y="87.7" width="29.7" height="2"/><rect x="1128" y="91.0" width="28" height="2"/><rect x="1128" y="94.3" width="20.8" height="2"/><rect x="1128" y="97.9" width="12.3" height="2"/><rect x="1128" y="197.9" width="2.7" height="2"/><rect x="1128" y="200.6" width="2.7" height="2"/></g><g fill="rgba(41,98,255,0.4)"><rect x="1128" y="101.4" width="11.8" height="2"/><rect x="1128" y="104.7" width="7" height="2"/><rect x="1128" y="108.0" width="8" height="2"/><rect x="1128" y="110.9" width="12.7" height="2"/><rect x="1128" y="114.2" width="14.6" height="2"/><rect x="1128" y="116.8" width="8.8" height="2"/><rect x="1128" y="120.8" width="6.6" height="2"/><rect x="1128" y="123.8" width="17.5" height="2"/><rect x="1128" y="127.0" width="29.8" height="2"/><rect x="1128" y="129.6" width="38.8" height="2"/><rect x="1128" y="133.3" width="27.1" height="2"/><rect x="1128" y="136.9" width="18.6" height="2"/><rect x="1128" y="140.0" width="19.7" height="2"/><rect x="1128" y="142.9" width="19.7" height="2"/><rect x="1128" y="146.6" width="22.8" height="2"/><rect x="1128" y="149.8" width="34.5" height="2"/><rect x="1128" y="153.0" width="47.3" height="2"/><rect x="1128" y="155.7" width="48.4" height="2"/><rect x="1128" y="158.9" width="38.8" height="2"/><rect x="1128" y="162.4" width="22.8" height="2"/><rect x="1128" y="165.8" width="27.1" height="2"/><rect x="1128" y="168.9" width="31.9" height="2"/><rect x="1128" y="171.9" width="39.9" height="2"/><rect x="1128" y="174.3" width="35.6" height="2"/><rect x="1128" y="176.4" width="13.3" height="2"/><rect x="1128" y="179.0" width="12.8" height="2"/><rect x="1128" y="181.9" width="10.6" height="2"/><rect x="1128" y="185.4" width="6.9" height="2"/><rect x="1128" y="188.1" width="6.9" height="2"/><rect x="1128" y="191.8" width="6.9" height="2"/><rect x="1128" y="194.7" width="6.9" height="2"/></g></g>
<text x="1483.6" y="237" font-size="9.6" fill="#131722" text-anchor="start" font-weight="normal" font-style="normal" textLength="18" lengthAdjust="spacingAndGlyphs">HVN</text>
<text x="1484.8" y="60.8" font-size="9.6" fill="#9598a1" text-anchor="start" font-weight="normal" font-style="normal" textLength="16.8" lengthAdjust="spacingAndGlyphs">ATH</text>
<text x="1459.6" y="160.8" font-size="9.6" fill="#6b8bd6" text-anchor="start" font-weight="normal" font-style="normal" textLength="42" lengthAdjust="spacingAndGlyphs">Oct VPOC</text>
<text x="1448.4" y="170.3" font-size="9.6" fill="#9598a1" text-anchor="start" font-weight="normal" font-style="normal" textLength="54.4" lengthAdjust="spacingAndGlyphs">Gap support</text>
<text x="1462" y="216" font-size="9.6" fill="#9598a1" text-anchor="start" font-weight="normal" font-style="normal" textLength="39.8" lengthAdjust="spacingAndGlyphs">June low</text>
<text x="1448.4" y="299.4" font-size="9.6" fill="#a3b3dd" text-anchor="start" font-weight="normal" font-style="normal" textLength="52.9" lengthAdjust="spacingAndGlyphs">March VPOC</text>
<text x="1153.2" y="246.8" font-size="9.6" fill="#80838d" text-anchor="start" font-weight="normal" font-style="normal" textLength="30.6" lengthAdjust="spacingAndGlyphs">61.80%</text>
<text x="1247.8" y="298" font-size="11" fill="#333" text-anchor="start" font-weight="normal" font-style="normal" textLength="23" lengthAdjust="spacingAndGlyphs">-32%</text>
<text x="520.9" y="393.5" font-size="11" fill="#333" text-anchor="start" font-weight="normal" font-style="normal" textLength="23" lengthAdjust="spacingAndGlyphs">-32%</text>
<g font-weight="bold" font-style="italic" font-size="12.5" fill="#131722" text-anchor="middle">
<text x="1375" y="95.9" font-size="12.8" fill="#131722" text-anchor="middle" font-weight="bold" font-style="italic" >Perhaps Bitcoin can</text>
<text x="1375" y="111.8" font-size="12.8" fill="#131722" text-anchor="middle" font-weight="bold" font-style="italic" >bounce from the VPOC and</text>
<text x="1375" y="127.7" font-size="12.8" fill="#131722" text-anchor="middle" font-weight="bold" font-style="italic" >gap support over the near</text>
<text x="1374" y="143.6" font-size="12.8" fill="#131722" text-anchor="middle" font-weight="bold" font-style="italic" >term</text>
<text x="1299.5" y="538.8" font-size="12.8" fill="#131722" text-anchor="middle" font-weight="bold" font-style="italic" >No bullish RSI</text>
<text x="1299.5" y="554.4" font-size="12.8" fill="#131722" text-anchor="middle" font-weight="bold" font-style="italic" >divergence</text>
<text x="1350" y="706.7" font-size="12.8" fill="#131722" text-anchor="middle" font-weight="bold" font-style="italic" >Cumulative volume delta</text>
<text x="1349" y="722.6" font-size="12.8" fill="#131722" text-anchor="middle" font-weight="bold" font-style="italic" >remains bearish despite</text>
<text x="1349" y="738.2" font-size="12.8" fill="#131722" text-anchor="middle" font-weight="bold" font-style="italic" >the bounce in prices</text>
</g>
<g filter="url(#shadow)"><line x1="1246.2" y1="148.7" x2="1253.0" y2="118.5" stroke="#000" stroke-width="2.8" stroke-linecap="round"/><path d="M1255.0 109.7 L1257.5 121.5 L1247.7 119.3 Z" fill="#000"/></g>
<g filter="url(#shadow)"><line x1="1267.4" y1="112" x2="1292.1" y2="224.3" stroke="#000" stroke-width="2.8" stroke-linecap="round"/><path d="M1294.0 233.1 L1286.8 223.4 L1296.5 221.3 Z" fill="#000"/></g>
<text x="18.2" y="45.5" font-size="11.5" fill="#4c4c4c" text-anchor="start" font-weight="normal" font-style="normal" >Bitcoin CME Futures · 1D · CME</text>
<text x="191.4" y="45.5" font-size="11.5" fill="#4c4c4c" text-anchor="start" font-weight="normal" font-style="normal" >O113,685</text>
<text x="249.3" y="45.5" font-size="11.5" fill="#4c4c4c" text-anchor="start" font-weight="normal" font-style="normal" >H113,995</text>
<text x="306.3" y="45.5" font-size="11.5" fill="#4c4c4c" text-anchor="start" font-weight="normal" font-style="normal" >L112,730</text>
<text x="361.8" y="45.5" font-size="11.5" fill="#4c4c4c" text-anchor="start" font-weight="normal" font-style="normal" >C113,210</text>
<text x="418.8" y="45.5" font-size="11.5" fill="#4c4c4c" text-anchor="start" font-weight="normal" font-style="normal" >−1,110 (−0.97%)</text>
<text x="18.2" y="62.8" font-size="11.5" fill="#4c4c4c" text-anchor="start" font-weight="normal" font-style="normal" >MA Ribbon</text>
<text x="82" y="62.8" font-size="11.5" fill="#b22833" text-anchor="start" font-weight="normal" font-style="normal" >115,119</text>
<text x="131" y="62.8" font-size="11.5" fill="#388e3c" text-anchor="start" font-weight="normal" font-style="normal" >107,738</text>
<g clip-path="url(#crsi)">
<line x1="10" y1="462.5" x2="1508" y2="462.5" stroke="#6487dd" stroke-width="1" stroke-dasharray="5 6"/>
<line x1="10" y1="579.5" x2="1508" y2="579.5" stroke="#6487dd" stroke-width="1" stroke-dasharray="5 6"/>
<line x1="10" y1="521.5" x2="1508" y2="521.5" stroke="#dddee3" stroke-width="1"/>
<path d="M9.5 515.4 L14.4 503.7 L19.4 471.6 L24.3 470.6 L29.3 469.7 L34.2 440.4 L39.1 436.0 L44.1 435.6 L49.0 452.7 L54.0 443.0 L58.9 442.4 L63.9 439.5 L68.8 435.6 L73.7 428.8 L78.7 427.4 L83.6 461.9 L88.6 485.8 L93.5 467.1 L98.5 466.3 L103.4 476.9 L108.3 477.1 L113.3 466.7 L118.2 467.7 L123.2 459.9 L128.1 493.6 L133.1 493.0 L138.0 475.5 L142.9 485.2 L147.9 477.4 L152.8 466.3 L157.8 464.8 L162.7 497.9 L167.7 517.0 L172.6 516.4 L177.5 530.6 L182.5 506.7 L187.4 521.3 L192.4 526.1 L197.3 527.1 L202.3 531.0 L207.2 512.5 L212.1 509.2 L217.1 495.0 L222.0 521.7 L227.0 530.0 L231.9 537.8 L236.9 525.6 L241.8 530.6 L246.7 518.3 L251.7 506.7 L256.6 504.3 L261.6 488.5 L266.5 485.6 L271.5 495.0 L276.4 499.8 L281.3 494.0 L286.3 511.9 L291.2 513.1 L296.2 499.8 L301.1 497.9 L306.1 516.0 L311.0 516.8 L315.9 530.6 L320.9 536.8 L325.8 538.8 L330.8 544.2 L335.7 533.9 L340.6 544.6 L345.6 532.6 L350.5 536.8 L355.5 530.6 L360.4 548.1 L365.4 534.5 L370.3 520.3 L375.2 539.8 L380.2 542.7 L385.1 565.1 L390.1 576.8 L395.0 579.3 L400.0 572.3 L404.9 563.1 L409.8 556.9 L414.8 535.3 L419.7 541.7 L424.7 550.9 L429.6 576.8 L434.6 553.8 L439.5 554.8 L444.4 564.1 L449.4 540.7 L454.3 541.7 L459.3 550.1 L464.2 533.5 L469.2 538.8 L474.1 539.8 L479.0 518.7 L484.0 520.3 L488.9 527.7 L493.9 525.6 L498.8 540.7 L503.8 546.2 L508.7 531.0 L513.6 521.3 L518.6 543.7 L523.5 532.6 L528.5 554.4 L533.4 558.9 L538.4 531.6 L543.3 541.7 L548.2 523.8 L553.2 519.7 L558.1 523.8 L563.1 521.9 L568.0 519.9 L573.0 507.6 L577.9 493.0 L582.8 486.6 L587.8 486.2 L592.7 479.8 L597.7 484.3 L602.6 482.3 L607.6 491.1 L612.5 480.4 L617.4 479.4 L622.4 498.3 L627.3 495.0 L632.3 489.1 L637.2 468.7 L642.2 462.5 L647.1 473.9 L652.0 462.8 L657.0 474.9 L661.9 476.1 L666.9 472.2 L671.8 466.7 L676.8 461.3 L681.7 456.0 L686.6 447.3 L691.6 469.1 L696.5 464.8 L701.5 488.2 L706.4 497.9 L711.4 505.7 L716.3 506.3 L721.2 495.9 L726.2 506.1 L731.1 527.1 L736.1 513.5 L741.0 490.5 L746.0 487.6 L750.9 493.4 L755.8 505.7 L760.8 517.0 L765.7 498.9 L770.7 521.7 L775.6 526.1 L780.5 529.1 L785.5 530.0 L790.4 514.4 L795.4 503.7 L800.3 505.1 L805.3 510.6 L810.2 506.3 L815.1 523.6 L820.1 497.9 L825.0 497.3 L830.0 510.6 L834.9 506.1 L839.9 490.5 L844.8 482.9 L849.7 464.8 L854.7 458.9 L859.6 484.3 L864.6 473.2 L869.5 475.9 L874.5 487.8 L879.4 492.6 L884.3 481.3 L889.3 487.8 L894.2 484.7 L899.2 500.8 L904.1 495.0 L909.1 499.8 L914.0 505.1 L918.9 506.7 L923.9 532.6 L928.8 521.3 L933.8 528.5 L938.7 516.8 L943.7 503.3 L948.6 511.9 L953.5 497.9 L958.5 494.0 L963.4 477.8 L968.4 511.9 L973.3 518.3 L978.3 522.2 L983.2 540.4 L988.1 532.4 L993.1 543.1 L998.0 517.4 L1003.0 543.7 L1007.9 542.1 L1012.9 536.8 L1017.8 537.4 L1022.7 554.4 L1027.7 539.2 L1032.6 531.4 L1037.6 542.7 L1042.5 533.0 L1047.5 530.0 L1052.4 533.9 L1057.3 520.9 L1062.3 515.4 L1067.2 503.3 L1072.2 513.9 L1077.1 505.7 L1082.1 513.9 L1087.0 503.3 L1091.9 519.3 L1096.9 534.9 L1101.8 537.8 L1106.8 526.5 L1111.7 547.6 L1116.7 548.9 L1121.6 517.0 L1126.5 517.0 L1131.5 501.8 L1136.4 487.2 L1141.4 480.8 L1146.3 471.6 L1151.3 495.4 L1156.2 488.5 L1161.1 502.8 L1166.1 524.2 L1171.0 527.1 L1176.0 540.7 L1180.9 547.6 L1185.9 558.3 L1190.8 564.1 L1195.7 539.8 L1200.7 534.9 L1205.6 550.1 L1210.6 537.8 L1215.5 536.5 L1220.5 516.4 L1225.4 521.3 L1230.3 527.1" fill="none" stroke="#4a6fd8" stroke-width="1.8" stroke-linejoin="round"/>
</g>
<text x="18.3" y="437.5" font-size="11.5" fill="#4c4c4c" text-anchor="start" font-weight="normal" font-style="normal" textLength="15" lengthAdjust="spacingAndGlyphs">RSI</text>
<text x="43.5" y="437.5" font-size="11.5" fill="#4a6fd8" text-anchor="start" font-weight="normal" font-style="normal" textLength="26" lengthAdjust="spacingAndGlyphs">47.76</text>
<g clip-path="url(#ccvd)">
<line x1="10" y1="676.5" x2="1508" y2="676.5" stroke="#787b86" stroke-width="1" stroke-dasharray="5 6"/>
</g>
<text x="18.1" y="608.7" font-size="11.5" fill="#4c4c4c" text-anchor="start" font-weight="normal" font-style="normal" textLength="21" lengthAdjust="spacingAndGlyphs">CVD</text>
<text x="47.1" y="608.7" font-size="11.5" fill="#b2b5be" text-anchor="start" font-weight="normal" font-style="normal" >−9.36K</text><text x="92.6" y="608.7" font-size="11.5" fill="#b2b5be" text-anchor="start" font-weight="normal" font-style="normal" >−9.35K</text><text x="138" y="608.7" font-size="11.5" fill="#b2b5be" text-anchor="start" font-weight="normal" font-style="normal" >−9.4K</text><text x="177.2" y="608.7" font-size="11.5" fill="#b2b5be" text-anchor="start" font-weight="normal" font-style="normal" >−9.39K</text>
<g clip-path="url(#ccvd)" stroke-width="1" fill="none"><path stroke="#8a8a8a" d="M9.5 673V673.5M9.5 686.5V687"/><rect stroke="#8a8a8a" fill="none" x="8.5" y="673.5" width="2" height="13"/><path stroke="#000" d="M14.5 677V685.5M14.5 689.5V690"/><rect stroke="#000" fill="#787b86" x="13.5" y="685.5" width="2" height="4"/><path stroke="#1836a6" d="M19.5 648V658.5M19.5 689.5V690"/><rect stroke="#1836a6" fill="#b0cff7" x="18.5" y="658.5" width="2" height="31"/><path stroke="#1836a6" d="M24.5 648V650.5M24.5 658.5V661"/><rect stroke="#1836a6" fill="#b0cff7" x="23.5" y="650.5" width="2" height="8"/><path stroke="#1836a6" d="M29.5 648V649.5M29.5 652.5V656"/><rect stroke="#1836a6" fill="#b0cff7" x="28.5" y="649.5" width="2" height="3"/><path stroke="#1836a6" d="M34.5 614V625.5M34.5 650.5V651"/><rect stroke="#1836a6" fill="#b0cff7" x="33.5" y="625.5" width="2" height="25"/><path stroke="#1836a6" d="M39.5 619V625.5M39.5 626.5V634"/><rect stroke="#1836a6" fill="#b0cff7" x="38.5" y="625.5" width="2" height="1"/><path stroke="#1836a6" d="M44.5 604V622.5M44.5 626.5V627"/><rect stroke="#1836a6" fill="#b0cff7" x="43.5" y="622.5" width="2" height="4"/><path stroke="#000" d="M49.5 619V621.5M49.5 622.5V625"/><rect stroke="#000" fill="#787b86" x="48.5" y="621.5" width="2" height="1"/><path stroke="#1836a6" d="M53.5 614V614.5M53.5 623.5V626"/><rect stroke="#1836a6" fill="#b0cff7" x="52.5" y="614.5" width="2" height="9"/><path stroke="#1836a6" d="M58.5 609V609.5M58.5 615.5V617"/><rect stroke="#1836a6" fill="#b0cff7" x="57.5" y="609.5" width="2" height="6"/><path stroke="#000" d="M63.5 609V609.5M63.5 613.5V615"/><rect stroke="#000" fill="#787b86" x="62.5" y="609.5" width="2" height="4"/><path stroke="#1836a6" d="M68.5 603V604.5M68.5 613.5V615"/><rect stroke="#1836a6" fill="#b0cff7" x="67.5" y="604.5" width="2" height="9"/><path stroke="#000" d="M73.5 599V604.5M73.5 607.5V610"/><rect stroke="#000" fill="#787b86" x="72.5" y="604.5" width="2" height="3"/><path stroke="#000" d="M78.5 608V608.5M78.5 613.5V615"/><rect stroke="#000" fill="#787b86" x="77.5" y="608.5" width="2" height="5"/><path stroke="#1836a6" d="M83.5 610V611.5M83.5 613.5V622"/><rect stroke="#1836a6" fill="#b0cff7" x="82.5" y="611.5" width="2" height="2"/><path stroke="#000" d="M88.5 610V611.5M88.5 613.5V615"/><rect stroke="#000" fill="#787b86" x="87.5" y="611.5" width="2" height="2"/><path stroke="#1836a6" d="M93.5 610V610.5M93.5 614.5V617"/><rect stroke="#1836a6" fill="#b0cff7" x="92.5" y="610.5" width="2" height="4"/><path stroke="#000" d="M98.5 607V609.5M98.5 616.5V618"/><rect stroke="#000" fill="#787b86" x="97.5" y="609.5" width="2" height="7"/><path stroke="#000" d="M103.5 674V676.5M103.5 683.5V685"/><rect stroke="#000" fill="#787b86" x="102.5" y="676.5" width="2" height="7"/><path stroke="#1836a6" d="M108.5 676V679.5M108.5 683.5V687"/><rect stroke="#1836a6" fill="#b0cff7" x="107.5" y="679.5" width="2" height="4"/><path stroke="#1836a6" d="M113.5 663V672.5M113.5 679.5V686"/><rect stroke="#1836a6" fill="#b0cff7" x="112.5" y="672.5" width="2" height="7"/><path stroke="#1836a6" d="M118.5 653V668.5M118.5 672.5V673"/><rect stroke="#1836a6" fill="#b0cff7" x="117.5" y="668.5" width="2" height="4"/><path stroke="#1836a6" d="M123.5 657V658.5M123.5 668.5V672"/><rect stroke="#1836a6" fill="#b0cff7" x="122.5" y="658.5" width="2" height="10"/><path stroke="#000" d="M128.5 657V659.5M128.5 671.5V676"/><rect stroke="#000" fill="#787b86" x="127.5" y="659.5" width="2" height="12"/><path stroke="#1836a6" d="M133.5 668V669.5M133.5 670.5V673"/><rect stroke="#1836a6" fill="#b0cff7" x="132.5" y="669.5" width="2" height="1"/><path stroke="#1836a6" d="M137.5 649V649.5M137.5 670.5V672"/><rect stroke="#1836a6" fill="#b0cff7" x="136.5" y="649.5" width="2" height="21"/><path stroke="#1836a6" d="M142.5 640V644.5M142.5 649.5V651"/><rect stroke="#1836a6" fill="#b0cff7" x="141.5" y="644.5" width="2" height="5"/><path stroke="#1836a6" d="M147.5 637V637.5M147.5 644.5V647"/><rect stroke="#1836a6" fill="#b0cff7" x="146.5" y="637.5" width="2" height="7"/><path stroke="#1836a6" d="M152.5 624V631.5M152.5 637.5V639"/><rect stroke="#1836a6" fill="#b0cff7" x="151.5" y="631.5" width="2" height="6"/><path stroke="#000" d="M157.5 630V631.5M157.5 636.5V638"/><rect stroke="#000" fill="#787b86" x="156.5" y="631.5" width="2" height="5"/><path stroke="#000" d="M162.5 635V636.5M162.5 657.5V659"/><rect stroke="#000" fill="#787b86" x="161.5" y="636.5" width="2" height="21"/><path stroke="#000" d="M167.5 655V657.5M167.5 677.5V679"/><rect stroke="#000" fill="#787b86" x="166.5" y="657.5" width="2" height="20"/><path stroke="#1836a6" d="M172.5 666V666.5M172.5 676.5V682"/><rect stroke="#1836a6" fill="#b0cff7" x="171.5" y="666.5" width="2" height="10"/><path stroke="#000" d="M177.5 666V666.5M177.5 675.5V677"/><rect stroke="#000" fill="#787b86" x="176.5" y="666.5" width="2" height="9"/><path stroke="#1836a6" d="M182.5 666V666.5M182.5 675.5V677"/><rect stroke="#1836a6" fill="#b0cff7" x="181.5" y="666.5" width="2" height="9"/><path stroke="#1836a6" d="M187.5 662V663.5M187.5 666.5V669"/><rect stroke="#1836a6" fill="#b0cff7" x="186.5" y="663.5" width="2" height="3"/><path stroke="#000" d="M192.5 661V663.5M192.5 669.5V672"/><rect stroke="#000" fill="#787b86" x="191.5" y="663.5" width="2" height="6"/><path stroke="#000" d="M197.5 667V668.5M197.5 670.5V674"/><rect stroke="#000" fill="#787b86" x="196.5" y="668.5" width="2" height="2"/><path stroke="#000" d="M202.5 668V670.5M202.5 674.5V676"/><rect stroke="#000" fill="#787b86" x="201.5" y="670.5" width="2" height="4"/><path stroke="#000" d="M207.5 672V675.5M207.5 677.5V680"/><rect stroke="#000" fill="#787b86" x="206.5" y="675.5" width="2" height="2"/><path stroke="#000" d="M212.5 675V677.5M212.5 678.5V682"/><rect stroke="#000" fill="#787b86" x="211.5" y="677.5" width="2" height="1"/><path stroke="#1836a6" d="M217.5 666V666.5M217.5 679.5V682"/><rect stroke="#1836a6" fill="#b0cff7" x="216.5" y="666.5" width="2" height="13"/><path stroke="#000" d="M222.5 666V666.5M222.5 706.5V708"/><rect stroke="#000" fill="#787b86" x="221.5" y="666.5" width="2" height="40"/><path stroke="#000" d="M226.5 705V706.5M226.5 711.5V713"/><rect stroke="#000" fill="#787b86" x="225.5" y="706.5" width="2" height="5"/><path stroke="#000" d="M231.5 709V711.5M231.5 714.5V718"/><rect stroke="#000" fill="#787b86" x="230.5" y="711.5" width="2" height="3"/><path stroke="#000" d="M236.5 710V713.5M236.5 720.5V722"/><rect stroke="#000" fill="#787b86" x="235.5" y="713.5" width="2" height="7"/><path stroke="#000" d="M241.5 715V719.5M241.5 720.5V730"/><rect stroke="#000" fill="#787b86" x="240.5" y="719.5" width="2" height="1"/><path stroke="#1836a6" d="M246.5 708V712.5M246.5 720.5V723"/><rect stroke="#1836a6" fill="#b0cff7" x="245.5" y="712.5" width="2" height="8"/><path stroke="#1836a6" d="M251.5 699V706.5M251.5 711.5V714"/><rect stroke="#1836a6" fill="#b0cff7" x="250.5" y="706.5" width="2" height="5"/><path stroke="#1836a6" d="M256.5 703V704.5M256.5 705.5V715"/><rect stroke="#1836a6" fill="#b0cff7" x="255.5" y="704.5" width="2" height="1"/><path stroke="#000" d="M261.5 693V704.5M261.5 705.5V706"/><rect stroke="#000" fill="#787b86" x="260.5" y="704.5" width="2" height="1"/><path stroke="#1836a6" d="M266.5 699V703.5M266.5 706.5V715"/><rect stroke="#1836a6" fill="#b0cff7" x="265.5" y="703.5" width="2" height="3"/><path stroke="#000" d="M271.5 703V704.5M271.5 710.5V713"/><rect stroke="#000" fill="#787b86" x="270.5" y="704.5" width="2" height="6"/><path stroke="#1836a6" d="M276.5 679V689.5M276.5 710.5V719"/><rect stroke="#1836a6" fill="#b0cff7" x="275.5" y="689.5" width="2" height="21"/><path stroke="#000" d="M281.5 686V688.5M281.5 695.5V697"/><rect stroke="#000" fill="#787b86" x="280.5" y="688.5" width="2" height="7"/><path stroke="#000" d="M286.5 695V695.5M286.5 707.5V710"/><rect stroke="#000" fill="#787b86" x="285.5" y="695.5" width="2" height="12"/><path stroke="#000" d="M291.5 701V706.5M291.5 710.5V711"/><rect stroke="#000" fill="#787b86" x="290.5" y="706.5" width="2" height="4"/><path stroke="#1836a6" d="M296.5 702V703.5M296.5 710.5V712"/><rect stroke="#1836a6" fill="#b0cff7" x="295.5" y="703.5" width="2" height="7"/><path stroke="#1836a6" d="M301.5 697V702.5M301.5 704.5V706"/><rect stroke="#1836a6" fill="#b0cff7" x="300.5" y="702.5" width="2" height="2"/><path stroke="#000" d="M306.5 699V702.5M306.5 716.5V718"/><rect stroke="#000" fill="#787b86" x="305.5" y="702.5" width="2" height="14"/><path stroke="#1836a6" d="M310.5 645V651.5M310.5 676.5V689"/><rect stroke="#1836a6" fill="#b0cff7" x="309.5" y="651.5" width="2" height="25"/><path stroke="#000" d="M315.5 651V651.5M315.5 672.5V673"/><rect stroke="#000" fill="#787b86" x="314.5" y="651.5" width="2" height="21"/><path stroke="#000" d="M320.5 672V672.5M320.5 681.5V683"/><rect stroke="#000" fill="#787b86" x="319.5" y="672.5" width="2" height="9"/><path stroke="#000" d="M325.5 676V680.5M325.5 681.5V684"/><rect stroke="#000" fill="#787b86" x="324.5" y="680.5" width="2" height="1"/><path stroke="#000" d="M330.5 670V681.5M330.5 686.5V687"/><rect stroke="#000" fill="#787b86" x="329.5" y="681.5" width="2" height="5"/><path stroke="#000" d="M335.5 684V685.5M335.5 687.5V688"/><rect stroke="#000" fill="#787b86" x="334.5" y="685.5" width="2" height="2"/><path stroke="#1836a6" d="M340.5 685V687.5M340.5 688.5V693"/><rect stroke="#1836a6" fill="#b0cff7" x="339.5" y="687.5" width="2" height="1"/><path stroke="#000" d="M345.5 683V687.5M345.5 688.5V693"/><rect stroke="#000" fill="#787b86" x="344.5" y="687.5" width="2" height="1"/><path stroke="#000" d="M350.5 687V687.5M350.5 690.5V696"/><rect stroke="#000" fill="#787b86" x="349.5" y="687.5" width="2" height="3"/><path stroke="#000" d="M355.5 683V690.5M355.5 691.5V693"/><rect stroke="#000" fill="#787b86" x="354.5" y="690.5" width="2" height="1"/><path stroke="#000" d="M360.5 691V691.5M360.5 693.5V702"/><rect stroke="#000" fill="#787b86" x="359.5" y="691.5" width="2" height="2"/><path stroke="#000" d="M365.5 691V692.5M365.5 694.5V697"/><rect stroke="#000" fill="#787b86" x="364.5" y="692.5" width="2" height="2"/><path stroke="#1836a6" d="M370.5 689V693.5M370.5 695.5V698"/><rect stroke="#1836a6" fill="#b0cff7" x="369.5" y="693.5" width="2" height="2"/><path stroke="#000" d="M375.5 693V694.5M375.5 715.5V717"/><rect stroke="#000" fill="#787b86" x="374.5" y="694.5" width="2" height="21"/><path stroke="#000" d="M380.5 714V715.5M380.5 720.5V723"/><rect stroke="#000" fill="#787b86" x="379.5" y="715.5" width="2" height="5"/><path stroke="#000" d="M385.5 721V720.5M385.5 721.5V737"/><rect stroke="#000" fill="#787b86" x="384.5" y="720.5" width="2" height="1"/><path stroke="#000" d="M390.5 721V722.5M390.5 727.5V729"/><rect stroke="#000" fill="#787b86" x="389.5" y="722.5" width="2" height="5"/><path stroke="#000" d="M395.5 726V727.5M395.5 733.5V735"/><rect stroke="#000" fill="#787b86" x="394.5" y="727.5" width="2" height="6"/><path stroke="#1836a6" d="M399.5 724V729.5M399.5 733.5V743"/><rect stroke="#1836a6" fill="#b0cff7" x="398.5" y="729.5" width="2" height="4"/><path stroke="#000" d="M404.5 670V676.5M404.5 687.5V692"/><rect stroke="#000" fill="#787b86" x="403.5" y="676.5" width="2" height="11"/><path stroke="#000" d="M409.5 676V687.5M409.5 688.5V693"/><rect stroke="#000" fill="#787b86" x="408.5" y="687.5" width="2" height="1"/><path stroke="#1836a6" d="M414.5 685V685.5M414.5 688.5V690"/><rect stroke="#1836a6" fill="#b0cff7" x="413.5" y="685.5" width="2" height="3"/><path stroke="#000" d="M419.5 683V685.5M419.5 686.5V688"/><rect stroke="#000" fill="#787b86" x="418.5" y="685.5" width="2" height="1"/><path stroke="#000" d="M424.5 684V685.5M424.5 697.5V699"/><rect stroke="#000" fill="#787b86" x="423.5" y="685.5" width="2" height="12"/><path stroke="#000" d="M429.5 697V697.5M429.5 700.5V711"/><rect stroke="#000" fill="#787b86" x="428.5" y="697.5" width="2" height="3"/><path stroke="#1836a6" d="M434.5 693V698.5M434.5 701.5V704"/><rect stroke="#1836a6" fill="#b0cff7" x="433.5" y="698.5" width="2" height="3"/><path stroke="#000" d="M439.5 697V698.5M439.5 699.5V704"/><rect stroke="#000" fill="#787b86" x="438.5" y="698.5" width="2" height="1"/><path stroke="#000" d="M444.5 698V699.5M444.5 706.5V708"/><rect stroke="#000" fill="#787b86" x="443.5" y="699.5" width="2" height="7"/><path stroke="#1836a6" d="M449.5 700V700.5M449.5 706.5V709"/><rect stroke="#1836a6" fill="#b0cff7" x="448.5" y="700.5" width="2" height="6"/><path stroke="#1836a6" d="M454.5 699V700.5M454.5 701.5V704"/><rect stroke="#1836a6" fill="#b0cff7" x="453.5" y="700.5" width="2" height="1"/><path stroke="#1836a6" d="M459.5 696V696.5M459.5 700.5V704"/><rect stroke="#1836a6" fill="#b0cff7" x="458.5" y="696.5" width="2" height="4"/><path stroke="#1836a6" d="M464.5 691V692.5M464.5 696.5V700"/><rect stroke="#1836a6" fill="#b0cff7" x="463.5" y="692.5" width="2" height="4"/><path stroke="#1836a6" d="M469.5 688V690.5M469.5 691.5V694"/><rect stroke="#1836a6" fill="#b0cff7" x="468.5" y="690.5" width="2" height="1"/><path stroke="#000" d="M474.5 690V691.5M474.5 694.5V696"/><rect stroke="#000" fill="#787b86" x="473.5" y="691.5" width="2" height="3"/><path stroke="#1836a6" d="M479.5 684V683.5M479.5 694.5V696"/><rect stroke="#1836a6" fill="#b0cff7" x="478.5" y="683.5" width="2" height="11"/><path stroke="#000" d="M483.5 683V684.5M483.5 685.5V687"/><rect stroke="#000" fill="#787b86" x="482.5" y="684.5" width="2" height="1"/><path stroke="#000" d="M488.5 685V685.5M488.5 686.5V688"/><rect stroke="#000" fill="#787b86" x="487.5" y="685.5" width="2" height="1"/><path stroke="#1836a6" d="M493.5 683V684.5M493.5 685.5V688"/><rect stroke="#1836a6" fill="#b0cff7" x="492.5" y="684.5" width="2" height="1"/><path stroke="#000" d="M498.5 684V684.5M498.5 699.5V700"/><rect stroke="#000" fill="#787b86" x="497.5" y="684.5" width="2" height="15"/><path stroke="#1836a6" d="M503.5 694V696.5M503.5 698.5V700"/><rect stroke="#1836a6" fill="#b0cff7" x="502.5" y="696.5" width="2" height="2"/><path stroke="#000" d="M508.5 672V676.5M508.5 681.5V685"/><rect stroke="#000" fill="#787b86" x="507.5" y="676.5" width="2" height="5"/><path stroke="#1836a6" d="M513.5 670V675.5M513.5 681.5V683"/><rect stroke="#1836a6" fill="#b0cff7" x="512.5" y="675.5" width="2" height="6"/><path stroke="#000" d="M518.5 676V676.5M518.5 683.5V685"/><rect stroke="#000" fill="#787b86" x="517.5" y="676.5" width="2" height="7"/><path stroke="#1836a6" d="M523.5 675V676.5M523.5 683.5V685"/><rect stroke="#1836a6" fill="#b0cff7" x="522.5" y="676.5" width="2" height="7"/><path stroke="#1836a6" d="M528.5 664V669.5M528.5 675.5V685"/><rect stroke="#1836a6" fill="#b0cff7" x="527.5" y="669.5" width="2" height="6"/><path stroke="#000" d="M533.5 668V669.5M533.5 683.5V685"/><rect stroke="#000" fill="#787b86" x="532.5" y="669.5" width="2" height="14"/><path stroke="#1836a6" d="M538.5 662V664.5M538.5 682.5V688"/><rect stroke="#1836a6" fill="#b0cff7" x="537.5" y="664.5" width="2" height="18"/><path stroke="#000" d="M543.5 664V665.5M543.5 678.5V681"/><rect stroke="#000" fill="#787b86" x="542.5" y="665.5" width="2" height="13"/><path stroke="#1836a6" d="M548.5 673V675.5M548.5 678.5V682"/><rect stroke="#1836a6" fill="#b0cff7" x="547.5" y="675.5" width="2" height="3"/><path stroke="#1836a6" d="M553.5 672V672.5M553.5 675.5V677"/><rect stroke="#1836a6" fill="#b0cff7" x="552.5" y="672.5" width="2" height="3"/><path stroke="#000" d="M558.5 668V672.5M558.5 673.5V675"/><rect stroke="#000" fill="#787b86" x="557.5" y="672.5" width="2" height="1"/><path stroke="#1836a6" d="M563.5 670V672.5M563.5 673.5V676"/><rect stroke="#1836a6" fill="#b0cff7" x="562.5" y="672.5" width="2" height="1"/><path stroke="#000" d="M568.5 672V672.5M568.5 676.5V677"/><rect stroke="#000" fill="#787b86" x="567.5" y="672.5" width="2" height="4"/><path stroke="#1836a6" d="M572.5 666V668.5M572.5 676.5V677"/><rect stroke="#1836a6" fill="#b0cff7" x="571.5" y="668.5" width="2" height="8"/><path stroke="#1836a6" d="M577.5 651V651.5M577.5 668.5V669"/><rect stroke="#1836a6" fill="#b0cff7" x="576.5" y="651.5" width="2" height="17"/><path stroke="#000" d="M582.5 650V650.5M582.5 654.5V656"/><rect stroke="#000" fill="#787b86" x="581.5" y="650.5" width="2" height="4"/><path stroke="#1836a6" d="M587.5 653V653.5M587.5 654.5V656"/><rect stroke="#1836a6" fill="#b0cff7" x="586.5" y="653.5" width="2" height="1"/><path stroke="#1836a6" d="M592.5 647V647.5M592.5 654.5V656"/><rect stroke="#1836a6" fill="#b0cff7" x="591.5" y="647.5" width="2" height="7"/><path stroke="#000" d="M597.5 645V646.5M597.5 650.5V651"/><rect stroke="#000" fill="#787b86" x="596.5" y="646.5" width="2" height="4"/><path stroke="#1836a6" d="M602.5 648V649.5M602.5 650.5V651"/><rect stroke="#1836a6" fill="#b0cff7" x="601.5" y="649.5" width="2" height="1"/><path stroke="#1836a6" d="M607.5 645V645.5M607.5 650.5V656"/><rect stroke="#1836a6" fill="#b0cff7" x="606.5" y="645.5" width="2" height="5"/><path stroke="#1836a6" d="M612.5 669V674.5M612.5 675.5V679"/><rect stroke="#1836a6" fill="#b0cff7" x="611.5" y="674.5" width="2" height="1"/><path stroke="#000" d="M617.5 674V675.5M617.5 676.5V681"/><rect stroke="#000" fill="#787b86" x="616.5" y="675.5" width="2" height="1"/><path stroke="#000" d="M622.5 676V676.5M622.5 685.5V686"/><rect stroke="#000" fill="#787b86" x="621.5" y="676.5" width="2" height="9"/><path stroke="#000" d="M627.5 685V685.5M627.5 686.5V687"/><rect stroke="#000" fill="#787b86" x="626.5" y="685.5" width="2" height="1"/><path stroke="#000" d="M632.5 684V685.5M632.5 686.5V690"/><rect stroke="#000" fill="#787b86" x="631.5" y="685.5" width="2" height="1"/><path stroke="#1836a6" d="M637.5 667V667.5M637.5 687.5V689"/><rect stroke="#1836a6" fill="#b0cff7" x="636.5" y="667.5" width="2" height="20"/><path stroke="#1836a6" d="M642.5 663V665.5M642.5 667.5V669"/><rect stroke="#1836a6" fill="#b0cff7" x="641.5" y="665.5" width="2" height="2"/><path stroke="#000" d="M647.5 662V665.5M647.5 672.5V674"/><rect stroke="#000" fill="#787b86" x="646.5" y="665.5" width="2" height="7"/><path stroke="#1836a6" d="M652.5 670V670.5M652.5 671.5V673"/><rect stroke="#1836a6" fill="#b0cff7" x="651.5" y="670.5" width="2" height="1"/><path stroke="#000" d="M656.5 671V671.5M656.5 675.5V677"/><rect stroke="#000" fill="#787b86" x="655.5" y="671.5" width="2" height="4"/><path stroke="#1836a6" d="M661.5 672V675.5M661.5 676.5V680"/><rect stroke="#1836a6" fill="#b0cff7" x="660.5" y="675.5" width="2" height="1"/><path stroke="#000" d="M666.5 674V675.5M666.5 677.5V679"/><rect stroke="#000" fill="#787b86" x="665.5" y="675.5" width="2" height="2"/><path stroke="#1836a6" d="M671.5 667V667.5M671.5 677.5V679"/><rect stroke="#1836a6" fill="#b0cff7" x="670.5" y="667.5" width="2" height="10"/><path stroke="#1836a6" d="M676.5 658V659.5M676.5 667.5V669"/><rect stroke="#1836a6" fill="#b0cff7" x="675.5" y="659.5" width="2" height="8"/><path stroke="#1836a6" d="M681.5 644V646.5M681.5 659.5V661"/><rect stroke="#1836a6" fill="#b0cff7" x="680.5" y="646.5" width="2" height="13"/><path stroke="#1836a6" d="M686.5 644V644.5M686.5 646.5V650"/><rect stroke="#1836a6" fill="#b0cff7" x="685.5" y="644.5" width="2" height="2"/><path stroke="#000" d="M691.5 644V644.5M691.5 653.5V654"/><rect stroke="#000" fill="#787b86" x="690.5" y="644.5" width="2" height="9"/><path stroke="#1836a6" d="M696.5 642V642.5M696.5 653.5V654"/><rect stroke="#1836a6" fill="#b0cff7" x="695.5" y="642.5" width="2" height="11"/><path stroke="#1836a6" d="M701.5 639V642.5M701.5 643.5V644"/><rect stroke="#1836a6" fill="#b0cff7" x="700.5" y="642.5" width="2" height="1"/><path stroke="#000" d="M706.5 640V642.5M706.5 645.5V647"/><rect stroke="#000" fill="#787b86" x="705.5" y="642.5" width="2" height="3"/><path stroke="#000" d="M711.5 644V644.5M711.5 650.5V652"/><rect stroke="#000" fill="#787b86" x="710.5" y="644.5" width="2" height="6"/><path stroke="#1836a6" d="M716.5 673V673.5M716.5 676.5V679"/><rect stroke="#1836a6" fill="#b0cff7" x="715.5" y="673.5" width="2" height="3"/><path stroke="#1836a6" d="M721.5 670V670.5M721.5 673.5V676"/><rect stroke="#1836a6" fill="#b0cff7" x="720.5" y="670.5" width="2" height="3"/><path stroke="#1836a6" d="M726.5 665V669.5M726.5 670.5V673"/><rect stroke="#1836a6" fill="#b0cff7" x="725.5" y="669.5" width="2" height="1"/><path stroke="#000" d="M731.5 666V670.5M731.5 689.5V690"/><rect stroke="#000" fill="#787b86" x="730.5" y="670.5" width="2" height="19"/><path stroke="#1836a6" d="M736.5 678V678.5M736.5 689.5V690"/><rect stroke="#1836a6" fill="#b0cff7" x="735.5" y="678.5" width="2" height="11"/><path stroke="#1836a6" d="M741.5 671V672.5M741.5 678.5V680"/><rect stroke="#1836a6" fill="#b0cff7" x="740.5" y="672.5" width="2" height="6"/><path stroke="#1836a6" d="M745.5 670V671.5M745.5 672.5V676"/><rect stroke="#1836a6" fill="#b0cff7" x="744.5" y="671.5" width="2" height="1"/><path stroke="#1836a6" d="M750.5 670V670.5M750.5 672.5V674"/><rect stroke="#1836a6" fill="#b0cff7" x="749.5" y="670.5" width="2" height="2"/><path stroke="#1836a6" d="M755.5 662V663.5M755.5 670.5V672"/><rect stroke="#1836a6" fill="#b0cff7" x="754.5" y="663.5" width="2" height="7"/><path stroke="#000" d="M760.5 664V664.5M760.5 668.5V671"/><rect stroke="#000" fill="#787b86" x="759.5" y="664.5" width="2" height="4"/><path stroke="#1836a6" d="M765.5 665V666.5M765.5 667.5V671"/><rect stroke="#1836a6" fill="#b0cff7" x="764.5" y="666.5" width="2" height="1"/><path stroke="#000" d="M770.5 665V666.5M770.5 672.5V674"/><rect stroke="#000" fill="#787b86" x="769.5" y="666.5" width="2" height="6"/><path stroke="#000" d="M775.5 669V672.5M775.5 676.5V678"/><rect stroke="#000" fill="#787b86" x="774.5" y="672.5" width="2" height="4"/><path stroke="#000" d="M780.5 671V676.5M780.5 677.5V680"/><rect stroke="#000" fill="#787b86" x="779.5" y="676.5" width="2" height="1"/><path stroke="#1836a6" d="M785.5 666V666.5M785.5 678.5V680"/><rect stroke="#1836a6" fill="#b0cff7" x="784.5" y="666.5" width="2" height="12"/><path stroke="#1836a6" d="M790.5 664V664.5M790.5 666.5V668"/><rect stroke="#1836a6" fill="#b0cff7" x="789.5" y="664.5" width="2" height="2"/><path stroke="#1836a6" d="M795.5 660V660.5M795.5 664.5V665"/><rect stroke="#1836a6" fill="#b0cff7" x="794.5" y="660.5" width="2" height="4"/><path stroke="#1836a6" d="M800.5 659V659.5M800.5 660.5V661"/><rect stroke="#1836a6" fill="#b0cff7" x="799.5" y="659.5" width="2" height="1"/><path stroke="#1836a6" d="M805.5 656V658.5M805.5 659.5V662"/><rect stroke="#1836a6" fill="#b0cff7" x="804.5" y="658.5" width="2" height="1"/><path stroke="#000" d="M810.5 657V658.5M810.5 660.5V667"/><rect stroke="#000" fill="#787b86" x="809.5" y="658.5" width="2" height="2"/><path stroke="#000" d="M815.5 675V676.5M815.5 682.5V684"/><rect stroke="#000" fill="#787b86" x="814.5" y="676.5" width="2" height="6"/><path stroke="#1836a6" d="M820.5 664V666.5M820.5 682.5V684"/><rect stroke="#1836a6" fill="#b0cff7" x="819.5" y="666.5" width="2" height="16"/><path stroke="#1836a6" d="M825.5 661V662.5M825.5 666.5V669"/><rect stroke="#1836a6" fill="#b0cff7" x="824.5" y="662.5" width="2" height="4"/><path stroke="#000" d="M829.5 661V662.5M829.5 665.5V668"/><rect stroke="#000" fill="#787b86" x="828.5" y="662.5" width="2" height="3"/><path stroke="#000" d="M834.5 664V665.5M834.5 666.5V669"/><rect stroke="#000" fill="#787b86" x="833.5" y="665.5" width="2" height="1"/><path stroke="#1836a6" d="M839.5 652V661.5M839.5 667.5V671"/><rect stroke="#1836a6" fill="#b0cff7" x="838.5" y="661.5" width="2" height="6"/><path stroke="#1836a6" d="M844.5 650V651.5M844.5 661.5V663"/><rect stroke="#1836a6" fill="#b0cff7" x="843.5" y="651.5" width="2" height="10"/><path stroke="#1836a6" d="M849.5 644V644.5M849.5 652.5V656"/><rect stroke="#1836a6" fill="#b0cff7" x="848.5" y="644.5" width="2" height="8"/><path stroke="#000" d="M854.5 639V644.5M854.5 649.5V651"/><rect stroke="#000" fill="#787b86" x="853.5" y="644.5" width="2" height="5"/><path stroke="#000" d="M859.5 649V649.5M859.5 655.5V658"/><rect stroke="#000" fill="#787b86" x="858.5" y="649.5" width="2" height="6"/><path stroke="#1836a6" d="M864.5 644V646.5M864.5 655.5V657"/><rect stroke="#1836a6" fill="#b0cff7" x="863.5" y="646.5" width="2" height="9"/><path stroke="#000" d="M869.5 647V647.5M869.5 651.5V653"/><rect stroke="#000" fill="#787b86" x="868.5" y="647.5" width="2" height="4"/><path stroke="#000" d="M874.5 650V650.5M874.5 661.5V663"/><rect stroke="#000" fill="#787b86" x="873.5" y="650.5" width="2" height="11"/><path stroke="#000" d="M879.5 655V661.5M879.5 663.5V665"/><rect stroke="#000" fill="#787b86" x="878.5" y="661.5" width="2" height="2"/><path stroke="#1836a6" d="M884.5 657V659.5M884.5 663.5V665"/><rect stroke="#1836a6" fill="#b0cff7" x="883.5" y="659.5" width="2" height="4"/><path stroke="#1836a6" d="M889.5 660V660.5M889.5 661.5V663"/><rect stroke="#1836a6" fill="#b0cff7" x="888.5" y="660.5" width="2" height="1"/><path stroke="#1836a6" d="M894.5 656V658.5M894.5 659.5V662"/><rect stroke="#1836a6" fill="#b0cff7" x="893.5" y="658.5" width="2" height="1"/><path stroke="#000" d="M899.5 659V659.5M899.5 664.5V665"/><rect stroke="#000" fill="#787b86" x="898.5" y="659.5" width="2" height="5"/><path stroke="#000" d="M904.5 661V664.5M904.5 667.5V669"/><rect stroke="#000" fill="#787b86" x="903.5" y="664.5" width="2" height="3"/><path stroke="#000" d="M909.5 663V666.5M909.5 669.5V671"/><rect stroke="#000" fill="#787b86" x="908.5" y="666.5" width="2" height="3"/><path stroke="#1836a6" d="M914.5 662V664.5M914.5 669.5V671"/><rect stroke="#1836a6" fill="#b0cff7" x="913.5" y="664.5" width="2" height="5"/><path stroke="#000" d="M918.5 660V664.5M918.5 678.5V680"/><rect stroke="#000" fill="#787b86" x="917.5" y="664.5" width="2" height="14"/><path stroke="#000" d="M923.5 674V676.5M923.5 681.5V683"/><rect stroke="#000" fill="#787b86" x="922.5" y="676.5" width="2" height="5"/><path stroke="#1836a6" d="M928.5 675V676.5M928.5 681.5V683"/><rect stroke="#1836a6" fill="#b0cff7" x="927.5" y="676.5" width="2" height="5"/><path stroke="#000" d="M933.5 676V676.5M933.5 680.5V684"/><rect stroke="#000" fill="#787b86" x="932.5" y="676.5" width="2" height="4"/><path stroke="#1836a6" d="M938.5 677V678.5M938.5 680.5V683"/><rect stroke="#1836a6" fill="#b0cff7" x="937.5" y="678.5" width="2" height="2"/><path stroke="#1836a6" d="M943.5 670V670.5M943.5 678.5V681"/><rect stroke="#1836a6" fill="#b0cff7" x="942.5" y="670.5" width="2" height="8"/><path stroke="#000" d="M948.5 669V670.5M948.5 674.5V676"/><rect stroke="#000" fill="#787b86" x="947.5" y="670.5" width="2" height="4"/><path stroke="#000" d="M953.5 668V674.5M953.5 678.5V680"/><rect stroke="#000" fill="#787b86" x="952.5" y="674.5" width="2" height="4"/><path stroke="#1836a6" d="M958.5 670V670.5M958.5 678.5V680"/><rect stroke="#1836a6" fill="#b0cff7" x="957.5" y="670.5" width="2" height="8"/><path stroke="#1836a6" d="M963.5 664V664.5M963.5 670.5V673"/><rect stroke="#1836a6" fill="#b0cff7" x="962.5" y="664.5" width="2" height="6"/><path stroke="#000" d="M968.5 662V664.5M968.5 671.5V673"/><rect stroke="#000" fill="#787b86" x="967.5" y="664.5" width="2" height="7"/><path stroke="#000" d="M973.5 669V670.5M973.5 674.5V677"/><rect stroke="#000" fill="#787b86" x="972.5" y="670.5" width="2" height="4"/><path stroke="#000" d="M978.5 673V674.5M978.5 678.5V680"/><rect stroke="#000" fill="#787b86" x="977.5" y="674.5" width="2" height="4"/><path stroke="#000" d="M983.5 678V678.5M983.5 691.5V693"/><rect stroke="#000" fill="#787b86" x="982.5" y="678.5" width="2" height="13"/><path stroke="#1836a6" d="M988.5 685V685.5M988.5 691.5V693"/><rect stroke="#1836a6" fill="#b0cff7" x="987.5" y="685.5" width="2" height="6"/><path stroke="#000" d="M993.5 684V685.5M993.5 687.5V689"/><rect stroke="#000" fill="#787b86" x="992.5" y="685.5" width="2" height="2"/><path stroke="#1836a6" d="M998.5 665V665.5M998.5 686.5V687"/><rect stroke="#1836a6" fill="#b0cff7" x="997.5" y="665.5" width="2" height="21"/><path stroke="#000" d="M1002.5 665V665.5M1002.5 674.5V677"/><rect stroke="#000" fill="#787b86" x="1001.5" y="665.5" width="2" height="9"/><path stroke="#1836a6" d="M1007.5 671V673.5M1007.5 674.5V676"/><rect stroke="#1836a6" fill="#b0cff7" x="1006.5" y="673.5" width="2" height="1"/><path stroke="#1836a6" d="M1012.5 671V671.5M1012.5 672.5V674"/><rect stroke="#1836a6" fill="#b0cff7" x="1011.5" y="671.5" width="2" height="1"/><path stroke="#000" d="M1017.5 672V672.5M1017.5 676.5V678"/><rect stroke="#000" fill="#787b86" x="1016.5" y="672.5" width="2" height="4"/><path stroke="#000" d="M1022.5 676V676.5M1022.5 693.5V695"/><rect stroke="#000" fill="#787b86" x="1021.5" y="676.5" width="2" height="17"/><path stroke="#1836a6" d="M1027.5 673V673.5M1027.5 676.5V682"/><rect stroke="#1836a6" fill="#b0cff7" x="1026.5" y="673.5" width="2" height="3"/><path stroke="#1836a6" d="M1032.5 670V670.5M1032.5 673.5V675"/><rect stroke="#1836a6" fill="#b0cff7" x="1031.5" y="670.5" width="2" height="3"/><path stroke="#000" d="M1037.5 670V670.5M1037.5 679.5V681"/><rect stroke="#000" fill="#787b86" x="1036.5" y="670.5" width="2" height="9"/><path stroke="#000" d="M1042.5 676V679.5M1042.5 683.5V686"/><rect stroke="#000" fill="#787b86" x="1041.5" y="679.5" width="2" height="4"/><path stroke="#1836a6" d="M1047.5 676V676.5M1047.5 682.5V684"/><rect stroke="#1836a6" fill="#b0cff7" x="1046.5" y="676.5" width="2" height="6"/><path stroke="#000" d="M1052.5 675V675.5M1052.5 678.5V681"/><rect stroke="#000" fill="#787b86" x="1051.5" y="675.5" width="2" height="3"/><path stroke="#1836a6" d="M1057.5 667V667.5M1057.5 677.5V680"/><rect stroke="#1836a6" fill="#b0cff7" x="1056.5" y="667.5" width="2" height="10"/><path stroke="#000" d="M1062.5 667V667.5M1062.5 670.5V673"/><rect stroke="#000" fill="#787b86" x="1061.5" y="667.5" width="2" height="3"/><path stroke="#1836a6" d="M1067.5 662V663.5M1067.5 670.5V672"/><rect stroke="#1836a6" fill="#b0cff7" x="1066.5" y="663.5" width="2" height="7"/><path stroke="#000" d="M1072.5 664V664.5M1072.5 665.5V667"/><rect stroke="#000" fill="#787b86" x="1071.5" y="664.5" width="2" height="1"/><path stroke="#1836a6" d="M1077.5 660V660.5M1077.5 664.5V667"/><rect stroke="#1836a6" fill="#b0cff7" x="1076.5" y="660.5" width="2" height="4"/><path stroke="#000" d="M1082.5 659V660.5M1082.5 662.5V665"/><rect stroke="#000" fill="#787b86" x="1081.5" y="660.5" width="2" height="2"/><path stroke="#1836a6" d="M1086.5 657V658.5M1086.5 662.5V664"/><rect stroke="#1836a6" fill="#b0cff7" x="1085.5" y="658.5" width="2" height="4"/><path stroke="#000" d="M1091.5 658V658.5M1091.5 665.5V667"/><rect stroke="#000" fill="#787b86" x="1090.5" y="658.5" width="2" height="7"/><path stroke="#000" d="M1096.5 665V665.5M1096.5 672.5V674"/><rect stroke="#000" fill="#787b86" x="1095.5" y="665.5" width="2" height="7"/><path stroke="#000" d="M1101.5 670V671.5M1101.5 672.5V676"/><rect stroke="#000" fill="#787b86" x="1100.5" y="671.5" width="2" height="1"/><path stroke="#1836a6" d="M1106.5 671V671.5M1106.5 672.5V674"/><rect stroke="#1836a6" fill="#b0cff7" x="1105.5" y="671.5" width="2" height="1"/><path stroke="#000" d="M1111.5 670V672.5M1111.5 681.5V683"/><rect stroke="#000" fill="#787b86" x="1110.5" y="672.5" width="2" height="9"/><path stroke="#000" d="M1116.5 676V681.5M1116.5 682.5V684"/><rect stroke="#000" fill="#787b86" x="1115.5" y="681.5" width="2" height="1"/><path stroke="#1836a6" d="M1121.5 670V670.5M1121.5 682.5V684"/><rect stroke="#1836a6" fill="#b0cff7" x="1120.5" y="670.5" width="2" height="12"/><path stroke="#000" d="M1126.5 670V670.5M1126.5 675.5V677"/><rect stroke="#000" fill="#787b86" x="1125.5" y="670.5" width="2" height="5"/><path stroke="#1836a6" d="M1131.5 670V673.5M1131.5 676.5V678"/><rect stroke="#1836a6" fill="#b0cff7" x="1130.5" y="673.5" width="2" height="3"/><path stroke="#1836a6" d="M1136.5 663V663.5M1136.5 673.5V675"/><rect stroke="#1836a6" fill="#b0cff7" x="1135.5" y="663.5" width="2" height="10"/><path stroke="#1836a6" d="M1141.5 656V661.5M1141.5 664.5V667"/><rect stroke="#1836a6" fill="#b0cff7" x="1140.5" y="661.5" width="2" height="3"/><path stroke="#000" d="M1146.5 659V661.5M1146.5 665.5V667"/><rect stroke="#000" fill="#787b86" x="1145.5" y="661.5" width="2" height="4"/><path stroke="#000" d="M1151.5 664V665.5M1151.5 676.5V678"/><rect stroke="#000" fill="#787b86" x="1150.5" y="665.5" width="2" height="11"/><path stroke="#000" d="M1156.5 669V676.5M1156.5 677.5V679"/><rect stroke="#000" fill="#787b86" x="1155.5" y="676.5" width="2" height="1"/><path stroke="#000" d="M1161.5 677V677.5M1161.5 689.5V692"/><rect stroke="#000" fill="#787b86" x="1160.5" y="677.5" width="2" height="12"/><path stroke="#000" d="M1166.5 686V689.5M1166.5 712.5V714"/><rect stroke="#000" fill="#787b86" x="1165.5" y="689.5" width="2" height="23"/><path stroke="#1836a6" d="M1171.5 708V708.5M1171.5 712.5V716"/><rect stroke="#1836a6" fill="#b0cff7" x="1170.5" y="708.5" width="2" height="4"/><path stroke="#000" d="M1175.5 708V708.5M1175.5 713.5V720"/><rect stroke="#000" fill="#787b86" x="1174.5" y="708.5" width="2" height="5"/><path stroke="#000" d="M1180.5 712V713.5M1180.5 720.5V723"/><rect stroke="#000" fill="#787b86" x="1179.5" y="713.5" width="2" height="7"/><path stroke="#000" d="M1185.5 717V720.5M1185.5 732.5V734"/><rect stroke="#000" fill="#787b86" x="1184.5" y="720.5" width="2" height="12"/><path stroke="#000" d="M1190.5 730V732.5M1190.5 735.5V738"/><rect stroke="#000" fill="#787b86" x="1189.5" y="732.5" width="2" height="3"/><path stroke="#000" d="M1195.5 733V734.5M1195.5 737.5V742"/><rect stroke="#000" fill="#787b86" x="1194.5" y="734.5" width="2" height="3"/><path stroke="#1836a6" d="M1200.5 724V736.5M1200.5 737.5V741"/><rect stroke="#1836a6" fill="#b0cff7" x="1199.5" y="736.5" width="2" height="1"/><path stroke="#000" d="M1205.5 736V736.5M1205.5 749.5V751"/><rect stroke="#000" fill="#787b86" x="1204.5" y="736.5" width="2" height="13"/><path stroke="#000" d="M1210.5 742V749.5M1210.5 750.5V751"/><rect stroke="#000" fill="#787b86" x="1209.5" y="749.5" width="2" height="1"/><path stroke="#000" d="M1215.5 745V749.5M1215.5 751.5V753"/><rect stroke="#000" fill="#787b86" x="1214.5" y="749.5" width="2" height="2"/><path stroke="#1836a6" d="M1220.5 744V745.5M1220.5 751.5V753"/><rect stroke="#1836a6" fill="#b0cff7" x="1219.5" y="745.5" width="2" height="6"/><path stroke="#000" d="M1225.5 739V745.5M1225.5 747.5V749"/><rect stroke="#000" fill="#787b86" x="1224.5" y="745.5" width="2" height="2"/><path stroke="#000" d="M1230.5 746V747.5M1230.5 748.5V749"/><rect stroke="#000" fill="#787b86" x="1229.5" y="747.5" width="2" height="1"/></g>
<line x1="11" y1="761.5" x2="1561" y2="761.5" stroke="#000"/>
<line x1="1508.5" y1="27" x2="1508.5" y2="786" stroke="#000"/>
<text x="1516.5" y="46.3" font-size="10.4" fill="#4a4a4a" text-anchor="start" font-weight="normal" font-style="normal" textLength="34.7" lengthAdjust="spacingAndGlyphs">130,000</text><text x="1516.5" y="77.3" font-size="10.4" fill="#4a4a4a" text-anchor="start" font-weight="normal" font-style="normal" textLength="34.7" lengthAdjust="spacingAndGlyphs">125,000</text><text x="1516.5" y="139.3" font-size="10.4" fill="#4a4a4a" text-anchor="start" font-weight="normal" font-style="normal" textLength="34.7" lengthAdjust="spacingAndGlyphs">115,000</text><text x="1516.5" y="200.8" font-size="10.4" fill="#4a4a4a" text-anchor="start" font-weight="normal" font-style="normal" textLength="34.7" lengthAdjust="spacingAndGlyphs">105,000</text><text x="1516.5" y="262.3" font-size="10.4" fill="#4a4a4a" text-anchor="start" font-weight="normal" font-style="normal" textLength="29.4" lengthAdjust="spacingAndGlyphs">95,000</text><text x="1516.5" y="324.3" font-size="10.4" fill="#4a4a4a" text-anchor="start" font-weight="normal" font-style="normal" textLength="29.4" lengthAdjust="spacingAndGlyphs">85,000</text><text x="1516.5" y="355.3" font-size="10.4" fill="#4a4a4a" text-anchor="start" font-weight="normal" font-style="normal" textLength="29.4" lengthAdjust="spacingAndGlyphs">80,000</text><text x="1516.5" y="385.3" font-size="10.4" fill="#4a4a4a" text-anchor="start" font-weight="normal" font-style="normal" textLength="29.4" lengthAdjust="spacingAndGlyphs">75,000</text><text x="1516.5" y="416.3" font-size="10.4" fill="#4a4a4a" text-anchor="start" font-weight="normal" font-style="normal" textLength="29.4" lengthAdjust="spacingAndGlyphs">70,000</text><path d="M1509 50H1554.8Q1556.8 50 1556.8 52V62.5Q1556.8 64.5 1554.8 64.5H1509Z" fill="#9598a1"/><text x="1516.5" y="60.95" font-size="10.4" fill="#131722" text-anchor="start" font-weight="normal" font-style="normal" textLength="34.7" lengthAdjust="spacingAndGlyphs">127,815</text><path d="M1509 98.3H1554.8Q1556.8 98.3 1556.8 100.3V110.6Q1556.8 112.6 1554.8 112.6H1509Z" fill="#9598a1"/><text x="1516.5" y="109.14999999999999" font-size="10.4" fill="#131722" text-anchor="start" font-weight="normal" font-style="normal" textLength="34.7" lengthAdjust="spacingAndGlyphs">120,000</text><path d="M1509 140H1554.8Q1556.8 140 1556.8 142V152Q1556.8 154 1554.8 154H1509Z" fill="#000"/><text x="1516.5" y="150.7" font-size="10.4" fill="#fff" text-anchor="start" font-weight="bold" font-style="normal" textLength="34.7" lengthAdjust="spacingAndGlyphs">113,210</text><path d="M1509 154H1554.8Q1556.8 154 1556.8 156V167Q1556.8 169 1554.8 169H1509Z" fill="#1238a3"/><text x="1516.5" y="165.2" font-size="10.4" fill="#fff" text-anchor="start" font-weight="bold" font-style="normal" textLength="34.7" lengthAdjust="spacingAndGlyphs">111,615</text><path d="M1509 169H1554.8Q1556.8 169 1556.8 171V195.4Q1556.8 197.4 1554.8 197.4H1509Z" fill="#9598a1"/><text x="1516.5" y="179.3" font-size="10.4" fill="#131722" text-anchor="start" font-weight="normal" font-style="normal" textLength="34.7" lengthAdjust="spacingAndGlyphs">111,315</text><text x="1516.5" y="193.3" font-size="10.4" fill="#131722" text-anchor="start" font-weight="normal" font-style="normal" textLength="34.7" lengthAdjust="spacingAndGlyphs">107,090</text><path d="M1509 205.4H1554.8Q1556.8 205.4 1556.8 207.4V217Q1556.8 219 1554.8 219H1509Z" fill="#9598a1"/><text x="1516.5" y="215.89999999999998" font-size="10.4" fill="#131722" text-anchor="start" font-weight="normal" font-style="normal" textLength="34.7" lengthAdjust="spacingAndGlyphs">102,720</text><path d="M1509 222H1554.8Q1556.8 222 1556.8 224V234.7Q1556.8 236.7 1554.8 236.7H1509Z" fill="#9598a1"/><text x="1516.5" y="233.04999999999998" font-size="10.4" fill="#131722" text-anchor="start" font-weight="normal" font-style="normal" textLength="34.7" lengthAdjust="spacingAndGlyphs">100,000</text><path d="M1509 237.5H1549Q1551 237.5 1551 239.5V248.6Q1551 250.6 1549 250.6H1509Z" fill="#000"/><text x="1516.5" y="247.75" font-size="10.4" fill="#fff" text-anchor="start" font-weight="bold" font-style="normal" textLength="29.4" lengthAdjust="spacingAndGlyphs">99,230</text><path d="M1509 289.2H1549Q1551 289.2 1551 291.2V301.7Q1551 303.7 1549 303.7H1509Z" fill="#1238a3"/><text x="1516.5" y="300.15" font-size="10.4" fill="#fff" text-anchor="start" font-weight="bold" font-style="normal" textLength="29.4" lengthAdjust="spacingAndGlyphs">89,160</text><text x="1516.5" y="437.3" font-size="10.4" fill="#4a4a4a" text-anchor="start" font-weight="normal" font-style="normal" textLength="24.0" lengthAdjust="spacingAndGlyphs">80.00</text><text x="1516.5" y="466.3" font-size="10.4" fill="#4a4a4a" text-anchor="start" font-weight="normal" font-style="normal" textLength="24.0" lengthAdjust="spacingAndGlyphs">70.00</text><text x="1516.5" y="495.3" font-size="10.4" fill="#4a4a4a" text-anchor="start" font-weight="normal" font-style="normal" textLength="24.0" lengthAdjust="spacingAndGlyphs">60.00</text><text x="1516.5" y="524.3" font-size="10.4" fill="#4a4a4a" text-anchor="start" font-weight="normal" font-style="normal" textLength="24.0" lengthAdjust="spacingAndGlyphs">50.00</text><text x="1516.5" y="554.3" font-size="10.4" fill="#4a4a4a" text-anchor="start" font-weight="normal" font-style="normal" textLength="24.0" lengthAdjust="spacingAndGlyphs">40.00</text><text x="1516.5" y="583.3" font-size="10.4" fill="#4a4a4a" text-anchor="start" font-weight="normal" font-style="normal" textLength="24.0" lengthAdjust="spacingAndGlyphs">30.00</text><text x="1516.5" y="618.0999999999999" font-size="10.4" fill="#4a4a4a" text-anchor="start" font-weight="normal" font-style="normal" textLength="14.4" lengthAdjust="spacingAndGlyphs">8 K</text><text x="1516.5" y="649.0999999999999" font-size="10.4" fill="#4a4a4a" text-anchor="start" font-weight="normal" font-style="normal" textLength="14.4" lengthAdjust="spacingAndGlyphs">4 K</text><text x="1516.5" y="678.9" font-size="10.4" fill="#4a4a4a" text-anchor="start" font-weight="normal" font-style="normal" textLength="5.3" lengthAdjust="spacingAndGlyphs">0</text><text x="1516.5" y="709.4" font-size="10.4" fill="#4a4a4a" text-anchor="start" font-weight="normal" font-style="normal" textLength="20.0" lengthAdjust="spacingAndGlyphs">−4 K</text><text x="1516.5" y="740.0999999999999" font-size="10.4" fill="#4a4a4a" text-anchor="start" font-weight="normal" font-style="normal" textLength="20.0" lengthAdjust="spacingAndGlyphs">−8 K</text>
<text x="102.8" y="777" font-size="9.6" fill="#4a4a4a" text-anchor="middle" font-weight="normal" font-style="normal" >Dec</text><text x="206.5" y="777" font-size="9.6" fill="#131722" text-anchor="middle" font-weight="normal" font-style="normal" >2025</text><text x="310.3" y="777" font-size="9.6" fill="#4a4a4a" text-anchor="middle" font-weight="normal" font-style="normal" >Feb</text><text x="404" y="777" font-size="9.6" fill="#4a4a4a" text-anchor="middle" font-weight="normal" font-style="normal" >Mar</text><text x="507.8" y="777" font-size="9.6" fill="#4a4a4a" text-anchor="middle" font-weight="normal" font-style="normal" >Apr</text><text x="611.6" y="777" font-size="9.6" fill="#4a4a4a" text-anchor="middle" font-weight="normal" font-style="normal" >May</text><text x="715.4" y="777" font-size="9.6" fill="#4a4a4a" text-anchor="middle" font-weight="normal" font-style="normal" >Jun</text><text x="814.3" y="777" font-size="9.6" fill="#4a4a4a" text-anchor="middle" font-weight="normal" font-style="normal" >Jul</text><text x="923.6" y="777" font-size="9.6" fill="#4a4a4a" text-anchor="middle" font-weight="normal" font-style="normal" >Aug</text><text x="1026.9" y="777" font-size="9.6" fill="#4a4a4a" text-anchor="middle" font-weight="normal" font-style="normal" >Sep</text><text x="1131" y="777" font-size="9.6" fill="#4a4a4a" text-anchor="middle" font-weight="normal" font-style="normal" >Oct</text><text x="1244.5" y="777" font-size="9.6" fill="#4a4a4a" text-anchor="middle" font-weight="normal" font-style="normal" >Nov</text><text x="1338" y="777" font-size="9.6" fill="#4a4a4a" text-anchor="middle" font-weight="normal" font-style="normal" >Dec</text><text x="1447" y="777" font-size="9.6" fill="#131722" text-anchor="middle" font-weight="normal" font-style="normal" >2026</text>
<g fill="#131722">
<path d="M12 809H24V824H18V815H12Z"/>
<circle cx="29" cy="812" r="2.9"/>
<path d="M35.2 809H41.8L36 824H29.1Z"/>
</g>
<text x="49" y="823.9" font-size="20.6" fill="#131722" text-anchor="start" font-weight="bold" font-style="normal" textLength="120.7" lengthAdjust="spacingAndGlyphs">TradingView</text>
</svg>
</body></html>
